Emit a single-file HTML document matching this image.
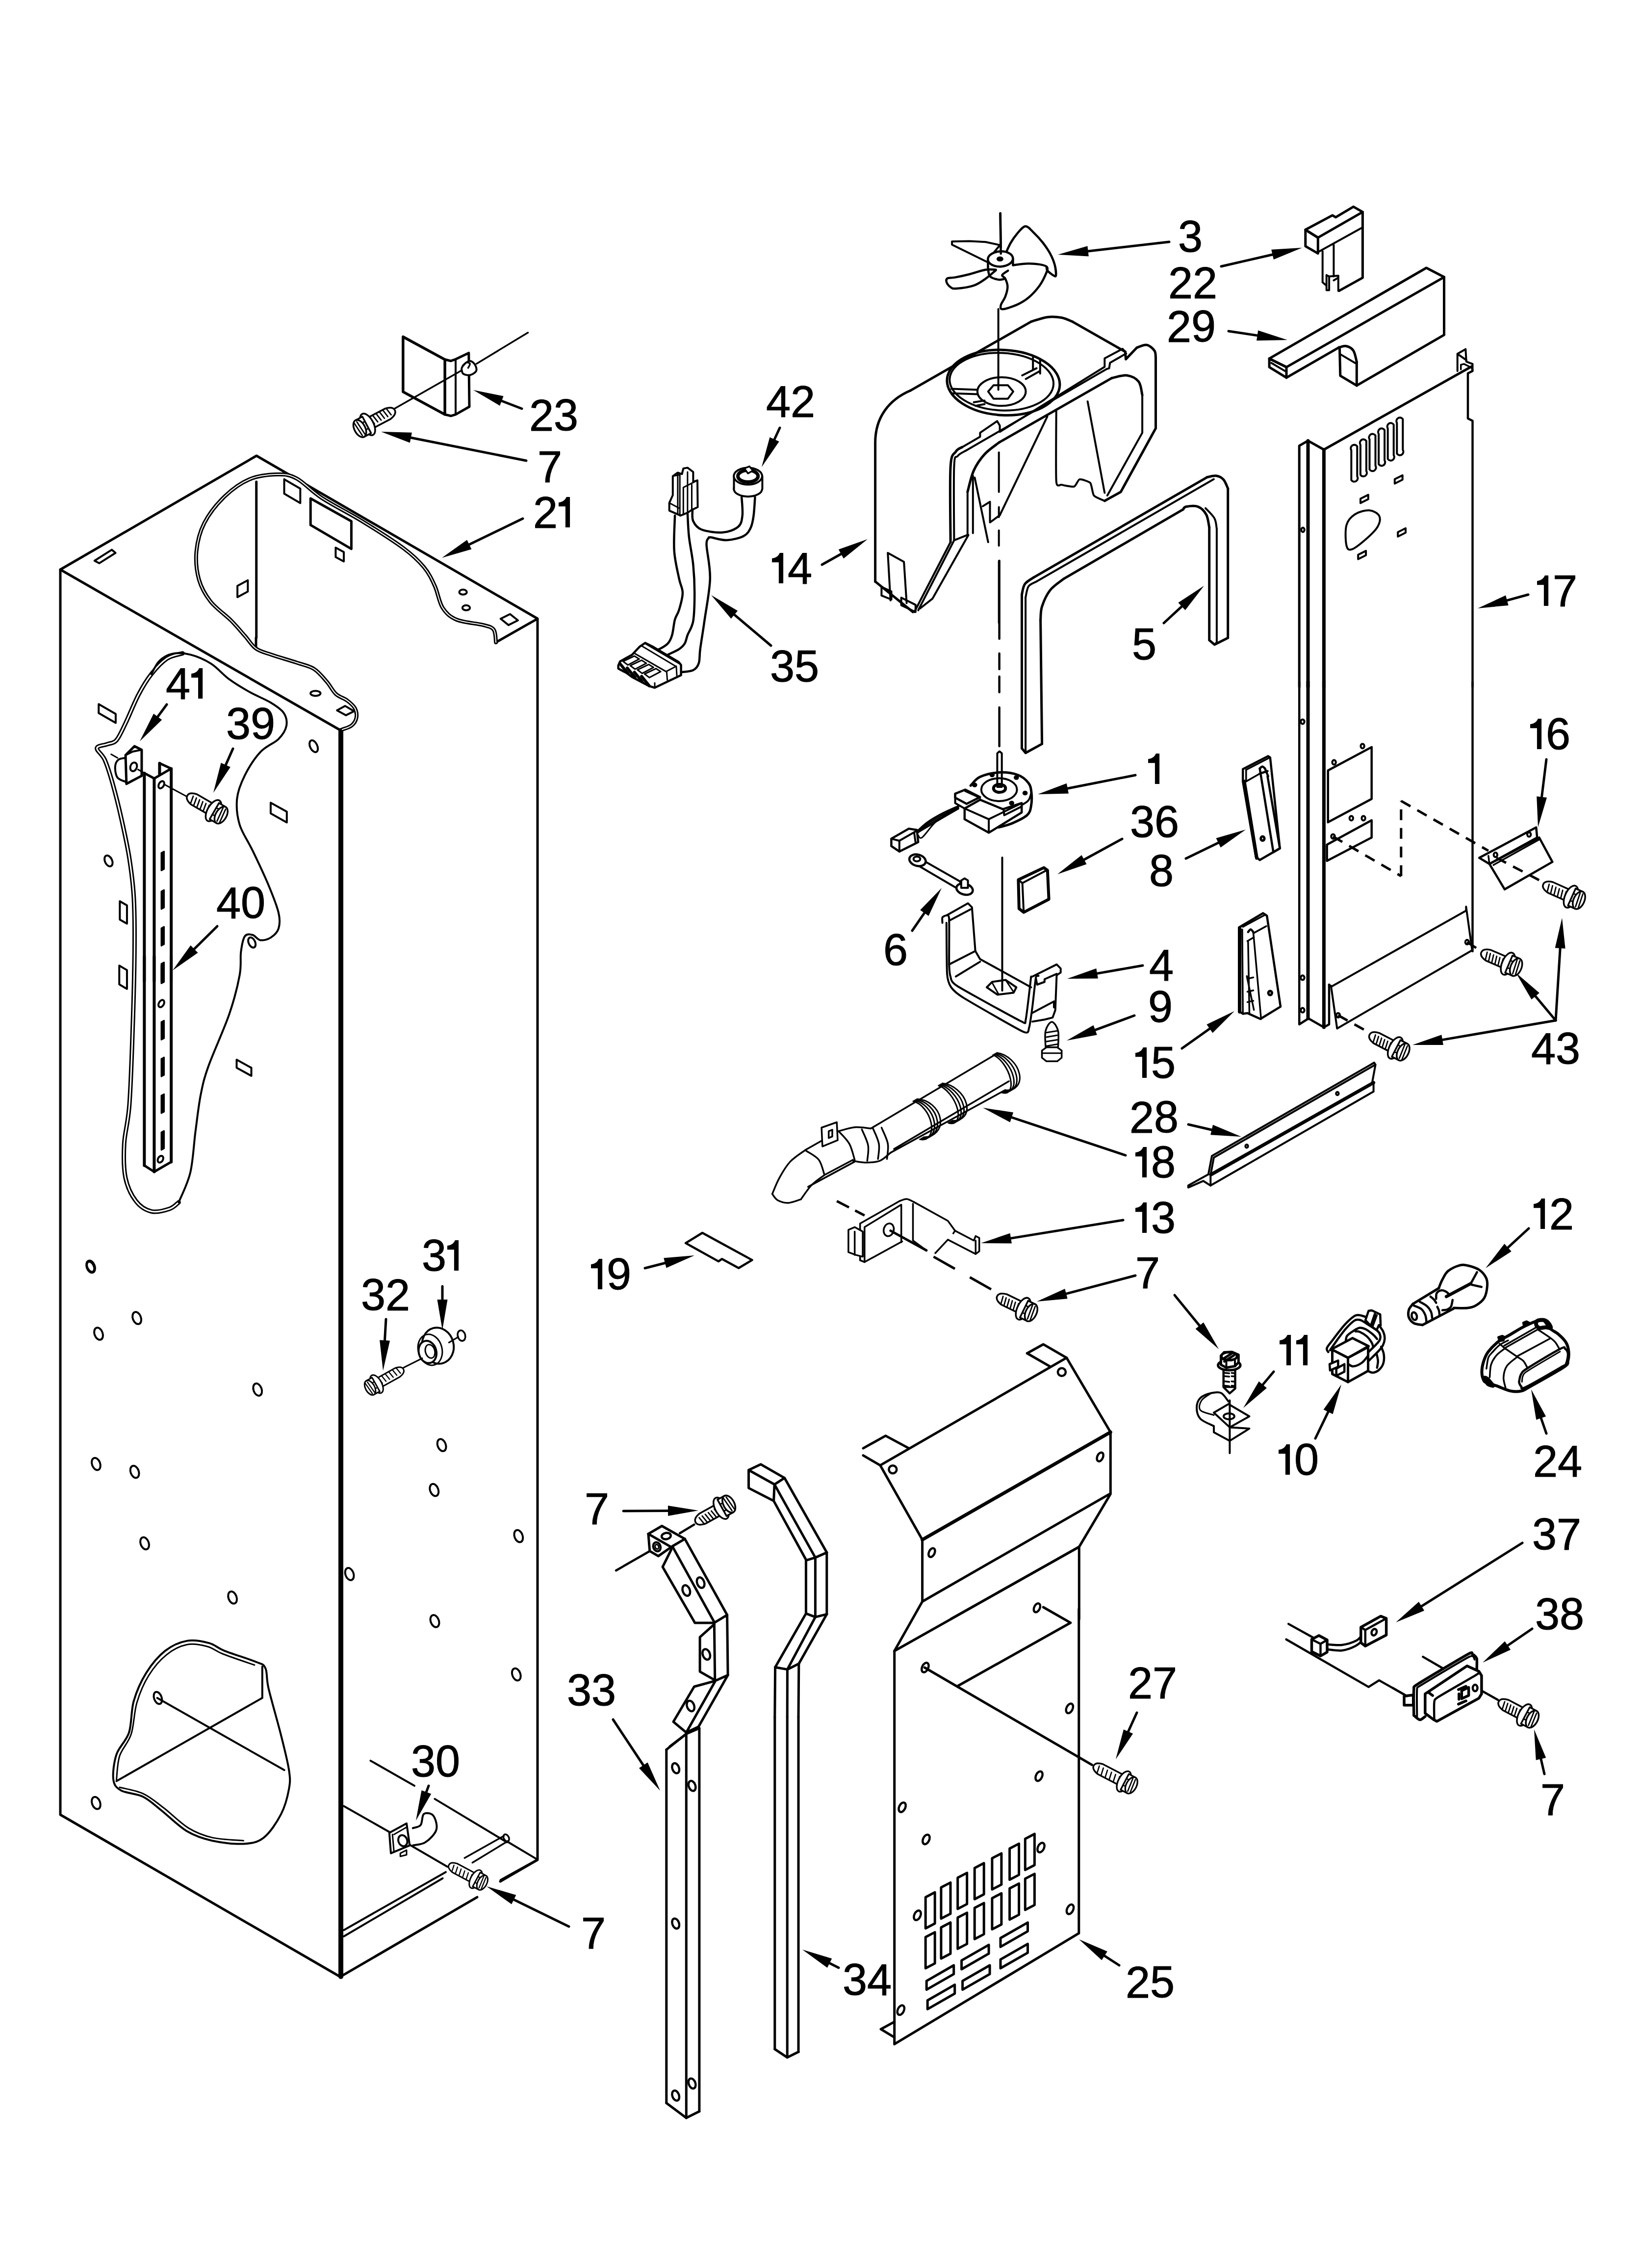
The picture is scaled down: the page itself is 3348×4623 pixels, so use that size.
<!DOCTYPE html>
<html><head><meta charset="utf-8"><style>
html,body{margin:0;padding:0;background:#fff;}
svg{display:block;}
text{font-family:"Liberation Sans",sans-serif;font-size:90px;fill:#000;}
</style></head><body>
<svg width="3348" height="4623" viewBox="0 0 3348 4623" stroke="#000" stroke-linejoin="round" stroke-linecap="round">
<rect width="3348" height="4623" fill="#fff" stroke="none"/>
<text x="2402" y="513">3</text>
<text x="2382" y="608">2</text>
<text x="2432.1" y="608">2</text>
<text x="2379" y="697">2</text>
<text x="2429.1" y="696">9</text>
<text x="1079" y="878">2</text>
<text x="1129" y="877">3</text>
<text x="1096" y="983">7</text>
<text x="1087" y="1076">2</text>
<path d="M15.9 0 L23.1 0 L23.1 62 L13.9 62 L13.9 19.2 L0 19.2 L0 11.2 C6 10.6 12.6 8 15.9 0 Z" transform="translate(1139 1013)" stroke="none" fill="#000"/>
<text x="1562" y="850">4</text>
<text x="1612" y="850">2</text>
<path d="M15.9 0 L23.1 0 L23.1 62 L13.9 62 L13.9 19.2 L0 19.2 L0 11.2 C6 10.6 12.6 8 15.9 0 Z" transform="translate(1574 1127)" stroke="none" fill="#000"/>
<text x="1606" y="1190">4</text>
<text x="1570" y="1389">3</text>
<text x="1620" y="1389">5</text>
<text x="2308" y="1344">5</text>
<path d="M15.9 0 L23.1 0 L23.1 62 L13.9 62 L13.9 19.2 L0 19.2 L0 11.2 C6 10.6 12.6 8 15.9 0 Z" transform="translate(3134 1173)" stroke="none" fill="#000"/>
<text x="3166" y="1236">7</text>
<path d="M15.9 0 L23.1 0 L23.1 62 L13.9 62 L13.9 19.2 L0 19.2 L0 11.2 C6 10.6 12.6 8 15.9 0 Z" transform="translate(3120 1465)" stroke="none" fill="#000"/>
<text x="3152" y="1527">6</text>
<path d="M15.9 0 L23.1 0 L23.1 62 L13.9 62 L13.9 19.2 L0 19.2 L0 11.2 C6 10.6 12.6 8 15.9 0 Z" transform="translate(2341 1536)" stroke="none" fill="#000"/>
<text x="2304" y="1706">3</text>
<text x="2354.1" y="1706">6</text>
<text x="2343" y="1806">8</text>
<text x="338" y="1425">4</text>
<path d="M15.9 0 L23.1 0 L23.1 62 L13.9 62 L13.9 19.2 L0 19.2 L0 11.2 C6 10.6 12.6 8 15.9 0 Z" transform="translate(390.1 1362)" stroke="none" fill="#000"/>
<text x="461" y="1506">3</text>
<text x="511.1" y="1506">9</text>
<text x="441" y="1872">4</text>
<text x="491.1" y="1871">0</text>
<text x="1801" y="1967">6</text>
<text x="2343" y="1999">4</text>
<text x="2341" y="2083">9</text>
<path d="M15.9 0 L23.1 0 L23.1 62 L13.9 62 L13.9 19.2 L0 19.2 L0 11.2 C6 10.6 12.6 8 15.9 0 Z" transform="translate(2315 2135)" stroke="none" fill="#000"/>
<text x="2347" y="2197">5</text>
<text x="3122" y="2169">4</text>
<text x="3172.1" y="2168">3</text>
<text x="2303" y="2309">2</text>
<text x="2353.1" y="2308">8</text>
<path d="M15.9 0 L23.1 0 L23.1 62 L13.9 62 L13.9 19.2 L0 19.2 L0 11.2 C6 10.6 12.6 8 15.9 0 Z" transform="translate(2315 2338)" stroke="none" fill="#000"/>
<text x="2347" y="2400">8</text>
<path d="M15.9 0 L23.1 0 L23.1 62 L13.9 62 L13.9 19.2 L0 19.2 L0 11.2 C6 10.6 12.6 8 15.9 0 Z" transform="translate(2315 2451)" stroke="none" fill="#000"/>
<text x="2347" y="2513">3</text>
<path d="M15.9 0 L23.1 0 L23.1 62 L13.9 62 L13.9 19.2 L0 19.2 L0 11.2 C6 10.6 12.6 8 15.9 0 Z" transform="translate(3127 2443)" stroke="none" fill="#000"/>
<text x="3159" y="2506">2</text>
<path d="M15.9 0 L23.1 0 L23.1 62 L13.9 62 L13.9 19.2 L0 19.2 L0 11.2 C6 10.6 12.6 8 15.9 0 Z" transform="translate(1205 2566)" stroke="none" fill="#000"/>
<text x="1237" y="2628">9</text>
<text x="2315" y="2626">7</text>
<text x="860" y="2590">3</text>
<path d="M15.9 0 L23.1 0 L23.1 62 L13.9 62 L13.9 19.2 L0 19.2 L0 11.2 C6 10.6 12.6 8 15.9 0 Z" transform="translate(912 2528)" stroke="none" fill="#000"/>
<text x="736" y="2670">3</text>
<text x="786" y="2671">2</text>
<path d="M15.9 0 L23.1 0 L23.1 62 L13.9 62 L13.9 19.2 L0 19.2 L0 11.2 C6 10.6 12.6 8 15.9 0 Z" transform="translate(2609 2721)" stroke="none" fill="#000"/>
<path d="M15.9 0 L23.1 0 L23.1 62 L13.9 62 L13.9 19.2 L0 19.2 L0 11.2 C6 10.6 12.6 8 15.9 0 Z" transform="translate(2643 2721)" stroke="none" fill="#000"/>
<path d="M15.9 0 L23.1 0 L23.1 62 L13.9 62 L13.9 19.2 L0 19.2 L0 11.2 C6 10.6 12.6 8 15.9 0 Z" transform="translate(2607 2944)" stroke="none" fill="#000"/>
<text x="2639" y="3006">0</text>
<text x="3126" y="3010">2</text>
<text x="3176.1" y="3010">4</text>
<text x="1192" y="3107">7</text>
<text x="3124" y="3158">3</text>
<text x="3174.1" y="3159">7</text>
<text x="3130" y="3321">3</text>
<text x="3180.1" y="3321">8</text>
<text x="1156" y="3476">3</text>
<text x="1206" y="3476">3</text>
<text x="2300" y="3462">2</text>
<text x="2350.1" y="3462">7</text>
<text x="838" y="3621">3</text>
<text x="888" y="3621">0</text>
<text x="3141" y="3700">7</text>
<text x="1185" y="3972">7</text>
<text x="1718" y="4066">3</text>
<text x="1768" y="4067">4</text>
<text x="2295" y="4072">2</text>
<text x="2345.1" y="4071">5</text>
<path d="M2384 493L2216.6 512.2" stroke-width="5" fill="none"/>
<path d="M2157 519L2217.4 501.5L2219.8 522.4Z" stroke="none" fill="#000"/>
<path d="M2490 543L2596.5 518.5" stroke-width="5" fill="none"/>
<path d="M2655 505L2596.9 529.1L2592.2 508.7Z" stroke="none" fill="#000"/>
<path d="M2505 675L2565.7 684.1" stroke-width="5" fill="none"/>
<path d="M2625 693L2562.1 694.2L2565.2 673.4Z" stroke="none" fill="#000"/>
<path d="M1064 833L1021 816.5" stroke-width="5" fill="none"/>
<path d="M965 795L1026.6 807.4L1019.1 827Z" stroke="none" fill="#000"/>
<path d="M1073 939L835.8 891.7" stroke-width="5" fill="none"/>
<path d="M777 880L839.9 881.8L835.8 902.4Z" stroke="none" fill="#000"/>
<path d="M1066 1057L955 1110.8" stroke-width="5" fill="none"/>
<path d="M901 1137L952.2 1100.5L961.4 1119.4Z" stroke="none" fill="#000"/>
<path d="M1590 872L1578.2 897.5" stroke-width="5" fill="none"/>
<path d="M1553 952L1569.5 891.3L1588.6 900.1Z" stroke="none" fill="#000"/>
<path d="M1676 1151L1716.6 1128.3" stroke-width="5" fill="none"/>
<path d="M1769 1099L1720 1138.4L1709.8 1120.1Z" stroke="none" fill="#000"/>
<path d="M1572 1316L1495.8 1251.7" stroke-width="5" fill="none"/>
<path d="M1450 1213L1504.1 1245L1490.6 1261Z" stroke="none" fill="#000"/>
<path d="M2373 1270L2411 1234.8" stroke-width="5" fill="none"/>
<path d="M2455 1194L2416.7 1243.8L2402.4 1228.4Z" stroke="none" fill="#000"/>
<path d="M2315 1580L2174.9 1607.5" stroke-width="5" fill="none"/>
<path d="M2116 1619L2174.8 1596.8L2178.9 1617.4Z" stroke="none" fill="#000"/>
<path d="M2288 1710L2208.7 1753.3" stroke-width="5" fill="none"/>
<path d="M2156 1782L2205.4 1743.1L2215.5 1761.5Z" stroke="none" fill="#000"/>
<path d="M2418 1750L2486 1717.1" stroke-width="5" fill="none"/>
<path d="M2540 1691L2488.8 1727.4L2479.6 1708.5Z" stroke="none" fill="#000"/>
<path d="M3116 1212L3070.9 1224.3" stroke-width="5" fill="none"/>
<path d="M3013 1240L3070.1 1213.6L3075.6 1233.9Z" stroke="none" fill="#000"/>
<path d="M3153 1548L3143.3 1626.5" stroke-width="5" fill="none"/>
<path d="M3136 1686L3133.2 1623.2L3154 1625.7Z" stroke="none" fill="#000"/>
<path d="M340 1436L320.5 1462.6" stroke-width="5" fill="none"/>
<path d="M285 1511L313.2 1454.8L330.1 1467.2Z" stroke="none" fill="#000"/>
<path d="M475 1526L459.4 1561.2" stroke-width="5" fill="none"/>
<path d="M435 1616L450.6 1555.1L469.8 1563.6Z" stroke="none" fill="#000"/>
<path d="M443 1888L394.7 1935.8" stroke-width="5" fill="none"/>
<path d="M352 1978L388.7 1926.9L403.5 1941.9Z" stroke="none" fill="#000"/>
<path d="M1860 1897L1885.9 1859.4" stroke-width="5" fill="none"/>
<path d="M1920 1810L1893.4 1867L1876.2 1855.1Z" stroke="none" fill="#000"/>
<path d="M2330 1968L2235.1 1984.6" stroke-width="5" fill="none"/>
<path d="M2176 1995L2235.3 1974L2238.9 1994.6Z" stroke="none" fill="#000"/>
<path d="M2313 2070L2231.3 2100.2" stroke-width="5" fill="none"/>
<path d="M2175 2121L2229.5 2089.7L2236.8 2109.4Z" stroke="none" fill="#000"/>
<path d="M2410 2137L2468.1 2095.7" stroke-width="5" fill="none"/>
<path d="M2517 2061L2472.5 2105.5L2460.4 2088.3Z" stroke="none" fill="#000"/>
<path d="M2423 2292L2472.5 2303.5" stroke-width="5" fill="none"/>
<path d="M2531 2317L2468.2 2313.2L2473 2292.8Z" stroke="none" fill="#000"/>
<path d="M2295 2355L2060.9 2277" stroke-width="5" fill="none"/>
<path d="M2004 2258L2066.1 2267.6L2059.5 2287.6Z" stroke="none" fill="#000"/>
<path d="M2290 2487L2059.2 2524.4" stroke-width="5" fill="none"/>
<path d="M2000 2534L2059.5 2513.7L2062.9 2534.4Z" stroke="none" fill="#000"/>
<path d="M2315 2600L2172 2637.7" stroke-width="5" fill="none"/>
<path d="M2114 2653L2171.3 2627L2176.6 2647.3Z" stroke="none" fill="#000"/>
<path d="M2395 2640L2447 2703.6" stroke-width="5" fill="none"/>
<path d="M2485 2750L2437.6 2708.7L2453.9 2695.4Z" stroke="none" fill="#000"/>
<path d="M2597 2796L2573.5 2824" stroke-width="5" fill="none"/>
<path d="M2535 2870L2566.8 2815.7L2582.9 2829.2Z" stroke="none" fill="#000"/>
<path d="M2682 2932L2709 2876.1" stroke-width="5" fill="none"/>
<path d="M2735 2822L2717.5 2882.4L2698.6 2873.3Z" stroke="none" fill="#000"/>
<path d="M3172 2080L3129.5 2029.1" stroke-width="5" fill="none"/>
<path d="M3091 1983L3138.8 2023.9L3122.7 2037.3Z" stroke="none" fill="#000"/>
<path d="M3172 2080L3181.3 1930.9" stroke-width="5" fill="none"/>
<path d="M3185 1871L3191.6 1933.5L3170.7 1932.2Z" stroke="none" fill="#000"/>
<path d="M3172 2080L2939.1 2119.9" stroke-width="5" fill="none"/>
<path d="M2880 2130L2939.3 2109.2L2942.9 2129.9Z" stroke="none" fill="#000"/>
<path d="M3117 2504L3073.1 2544.4" stroke-width="5" fill="none"/>
<path d="M3029 2585L3067.5 2535.3L3081.7 2550.7Z" stroke="none" fill="#000"/>
<path d="M3153 2922L3141.5 2888.7" stroke-width="5" fill="none"/>
<path d="M3122 2832L3152.1 2887.2L3132.3 2894Z" stroke="none" fill="#000"/>
<path d="M3104 3145L2896.8 3275.1" stroke-width="5" fill="none"/>
<path d="M2846 3307L2892.9 3265.1L2904.1 3282.9Z" stroke="none" fill="#000"/>
<path d="M3124 3320L3072.5 3355.2" stroke-width="5" fill="none"/>
<path d="M3023 3389L3068.3 3345.4L3080.1 3362.7Z" stroke="none" fill="#000"/>
<path d="M2318 3491L2299.7 3531.3" stroke-width="5" fill="none"/>
<path d="M2275 3586L2291 3525.2L2310.1 3533.8Z" stroke="none" fill="#000"/>
<path d="M2282 4006L2250.4 3985.6" stroke-width="5" fill="none"/>
<path d="M2200 3953L2257.8 3977.8L2246.4 3995.5Z" stroke="none" fill="#000"/>
<path d="M1710 4011L1689.7 4000.8" stroke-width="5" fill="none"/>
<path d="M1636 3974L1696.2 3992.3L1686.8 4011.1Z" stroke="none" fill="#000"/>
<path d="M1250 3505L1312.9 3600" stroke-width="5" fill="none"/>
<path d="M1346 3650L1303 3604.1L1320.5 3592.5Z" stroke="none" fill="#000"/>
<path d="M874 3640L868.6 3654.7" stroke-width="5" fill="none"/>
<path d="M848 3711L859.5 3649.2L879.2 3656.4Z" stroke="none" fill="#000"/>
<path d="M1160 3927L1045.9 3871.3" stroke-width="5" fill="none"/>
<path d="M992 3845L1052.3 3862.8L1043.1 3881.6Z" stroke="none" fill="#000"/>
<path d="M1271 3080L1364 3079.4" stroke-width="5" fill="none"/>
<path d="M1424 3079L1362.1 3089.9L1361.9 3068.9Z" stroke="none" fill="#000"/>
<path d="M1315 2585L1357.9 2574" stroke-width="5" fill="none"/>
<path d="M1416 2559L1358.6 2584.6L1353.3 2564.3Z" stroke="none" fill="#000"/>
<path d="M787 2689L784.4 2734.1" stroke-width="5" fill="none"/>
<path d="M781 2794L774.1 2731.5L795 2732.7Z" stroke="none" fill="#000"/>
<path d="M902 2622L902 2651" stroke-width="5" fill="none"/>
<path d="M902 2711L891.5 2649L912.5 2649Z" stroke="none" fill="#000"/>
<path d="M3149 3616L3141.5 3583.5" stroke-width="5" fill="none"/>
<path d="M3128 3525L3152.2 3583.1L3131.7 3587.8Z" stroke="none" fill="#000"/>
<path d="M693 4029 L123 3699 L123 1161 L523 929 L1096 1261 L1096 3791 L1020 3835" stroke-width="5" fill="none"/>
<path d="M123 1161 L695 1489" stroke-width="5" fill="none"/>
<path d="M695 1489 L695 4029" stroke-width="10" fill="none"/>
<path d="M1011.2 1309.3L1095.7 1261.3" stroke-width="5" fill="none"/>
<path d="M192.7 1143 L227.9 1120.6 L235.6 1127 L202.3 1148.1 Z" stroke-width="4" fill="none"/>
<ellipse cx="944.1" cy="1206.9" rx="7.7" ry="5.1" transform="rotate(0 944.1 1206.9)" stroke-width="4" fill="none"/>
<ellipse cx="950.5" cy="1238.9" rx="7.7" ry="5.1" transform="rotate(0 950.5 1238.9)" stroke-width="4" fill="none"/>
<path d="M1020.8 1261.3 L1040 1251.7 L1056 1264.5 L1036.8 1274.1 Z" stroke-width="4" fill="none"/>
<path d="M522.7 982L522.7 1299.9" stroke-width="5" fill="none"/>
<path d="M522 1300L522 1322" stroke-width="5" fill="none"/>
<path d="M579.5 976.9 L579.5 1006.3 L612.3 1025.5 L612.3 996 Z" stroke-width="4" fill="none"/>
<path d="M633.2 1016 L633.2 1070.2 L716.4 1118.8 L716.4 1062.5 Z" stroke-width="5" fill="none"/>
<path d="M684.4 1116.3 L684.4 1135.4 L701 1144.4 L701 1125.2 Z" stroke-width="4" fill="none"/>
<path d="M484.1 1194.3 L484.1 1217.3 L505.3 1205.8 L505.3 1182.8 Z" stroke-width="4" fill="none"/>
<path d="M1011.2 1309.3 C1010.5 1305 1011 1289.5 1006.8 1283.7 C1002.5 1277.8 998.2 1277.5 985.7 1274.1 C973.1 1270.7 945.2 1269.1 931.3 1263.2 C917.5 1257.4 910 1250.4 902.5 1238.9 C895.1 1227.4 892.9 1208 886.5 1194.2 C880.2 1180.3 874.8 1168.6 864.2 1155.8 C853.5 1143 843.4 1132.9 822.6 1117.4 C801.8 1102 767.2 1080.1 739.5 1063.1 C711.8 1046 678.7 1029.7 656.3 1015.1 C634 1000.5 620.1 983.5 605.2 975.5 C590.3 967.5 582.8 966.9 566.8 967.1 C550.8 967.4 527.4 969.3 509.3 976.7 C491.1 984.2 473.6 997 458.1 1011.9 C442.6 1026.8 426.1 1047.6 416.5 1066.3 C406.9 1084.9 402.4 1104.6 400.5 1123.8 C398.7 1143 400.9 1164.3 405.7 1181.4 C410.5 1198.4 418.5 1212.3 429.3 1226.1 C440.2 1240 459.2 1252.8 470.9 1264.5 C482.6 1276.2 491.1 1286.9 499.7 1296.5 C508.2 1306.1 513 1315.7 522 1322 C531.1 1328.4 540.2 1330 554 1334.8 C567.9 1339.6 590.8 1346 605.2 1350.8 C619.6 1355.6 630.2 1357.2 640.4 1363.6 C650.5 1370 658.5 1380.7 665.9 1389.2 C673.4 1397.7 678.2 1408.4 685.1 1414.8 C692 1421.2 701.1 1422.8 707.5 1427.6 C713.9 1432.4 720.3 1437.7 723.5 1443.5 C726.7 1449.4 727.7 1456.9 726.7 1462.7 C725.6 1468.6 721.9 1474.7 717.1 1478.7 C712.3 1482.8 701.1 1485.6 697.9 1487" stroke-width="8" fill="none"/>
<path stroke="#fff" d="M1011.2 1309.3 C1010.5 1305 1011 1289.5 1006.8 1283.7 C1002.5 1277.8 998.2 1277.5 985.7 1274.1 C973.1 1270.7 945.2 1269.1 931.3 1263.2 C917.5 1257.4 910 1250.4 902.5 1238.9 C895.1 1227.4 892.9 1208 886.5 1194.2 C880.2 1180.3 874.8 1168.6 864.2 1155.8 C853.5 1143 843.4 1132.9 822.6 1117.4 C801.8 1102 767.2 1080.1 739.5 1063.1 C711.8 1046 678.7 1029.7 656.3 1015.1 C634 1000.5 620.1 983.5 605.2 975.5 C590.3 967.5 582.8 966.9 566.8 967.1 C550.8 967.4 527.4 969.3 509.3 976.7 C491.1 984.2 473.6 997 458.1 1011.9 C442.6 1026.8 426.1 1047.6 416.5 1066.3 C406.9 1084.9 402.4 1104.6 400.5 1123.8 C398.7 1143 400.9 1164.3 405.7 1181.4 C410.5 1198.4 418.5 1212.3 429.3 1226.1 C440.2 1240 459.2 1252.8 470.9 1264.5 C482.6 1276.2 491.1 1286.9 499.7 1296.5 C508.2 1306.1 513 1315.7 522 1322 C531.1 1328.4 540.2 1330 554 1334.8 C567.9 1339.6 590.8 1346 605.2 1350.8 C619.6 1355.6 630.2 1357.2 640.4 1363.6 C650.5 1370 658.5 1380.7 665.9 1389.2 C673.4 1397.7 678.2 1408.4 685.1 1414.8 C692 1421.2 701.1 1422.8 707.5 1427.6 C713.9 1432.4 720.3 1437.7 723.5 1443.5 C726.7 1449.4 727.7 1456.9 726.7 1462.7 C725.6 1468.6 721.9 1474.7 717.1 1478.7 C712.3 1482.8 701.1 1485.6 697.9 1487" stroke-width="2" fill="none"/>
<path d="M372.2 1331.7 C366.9 1333.5 351.1 1335.3 340.5 1342.3 C329.9 1349.4 318.4 1361.7 308.7 1374.1 C299 1386.4 291.1 1399.6 282.3 1416.4 C273.5 1433.2 263.3 1459.2 255.8 1474.6 C248.3 1490 243.5 1501.9 237.3 1509 C231.1 1516 225.4 1514.3 218.8 1516.9 C212.2 1519.6 198.5 1519.6 197.6 1524.9 C196.7 1530.2 208.2 1536.8 213.5 1548.7 C218.8 1560.6 223.6 1576 229.4 1596.3 C235.1 1616.6 242.2 1644.8 247.9 1670.4 C253.6 1695.9 259.6 1723.3 263.8 1749.7 C267.9 1776.2 271 1798.2 272.8 1829.1 C274.5 1860 274.7 1890.8 274.3 1934.9 C274 1979 272.4 2040.7 270.6 2093.7 C268.9 2146.6 266.7 2212.7 263.8 2252.4 C260.8 2292.1 254.5 2307.1 253.2 2331.7 C251.9 2356.4 251.9 2381.1 255.8 2400.5 C259.8 2419.9 268.2 2436.7 277 2448.1 C285.8 2459.6 297.3 2466.7 308.7 2469.3 C320.2 2472 336.5 2467.1 345.8 2464 C355 2460.9 361.2 2453 364.3 2450.8" stroke-width="9" fill="none"/>
<path stroke="#fff" d="M372.2 1331.7 C366.9 1333.5 351.1 1335.3 340.5 1342.3 C329.9 1349.4 318.4 1361.7 308.7 1374.1 C299 1386.4 291.1 1399.6 282.3 1416.4 C273.5 1433.2 263.3 1459.2 255.8 1474.6 C248.3 1490 243.5 1501.9 237.3 1509 C231.1 1516 225.4 1514.3 218.8 1516.9 C212.2 1519.6 198.5 1519.6 197.6 1524.9 C196.7 1530.2 208.2 1536.8 213.5 1548.7 C218.8 1560.6 223.6 1576 229.4 1596.3 C235.1 1616.6 242.2 1644.8 247.9 1670.4 C253.6 1695.9 259.6 1723.3 263.8 1749.7 C267.9 1776.2 271 1798.2 272.8 1829.1 C274.5 1860 274.7 1890.8 274.3 1934.9 C274 1979 272.4 2040.7 270.6 2093.7 C268.9 2146.6 266.7 2212.7 263.8 2252.4 C260.8 2292.1 254.5 2307.1 253.2 2331.7 C251.9 2356.4 251.9 2381.1 255.8 2400.5 C259.8 2419.9 268.2 2436.7 277 2448.1 C285.8 2459.6 297.3 2466.7 308.7 2469.3 C320.2 2472 336.5 2467.1 345.8 2464 C355 2460.9 361.2 2453 364.3 2450.8" stroke-width="3" fill="none"/>
<path d="M308.7 1374.1 C311.4 1369.7 317.5 1354.5 324.6 1347.6 C331.7 1340.7 340.5 1335 351.1 1332.8 C361.6 1330.6 374.9 1331 388.1 1334.4 C401.3 1337.7 417.2 1344.5 430.4 1352.9 C443.7 1361.3 454.2 1375 467.5 1384.7 C480.7 1394.4 495.7 1403.2 509.8 1411.1 C523.9 1419 540.7 1425.2 552.1 1432.3 C563.6 1439.3 573.3 1445.5 578.6 1453.4 C583.9 1461.4 585.6 1471.1 583.9 1479.9 C582.1 1488.7 576.8 1497.5 568 1506.3 C559.2 1515.2 542.4 1520.5 531 1532.8 C519.5 1545.1 507.1 1564.6 499.2 1580.4 C491.3 1596.3 485.1 1611.3 483.3 1628 C481.6 1644.8 483.3 1663.3 488.6 1681 C493.9 1698.6 505.4 1713.6 515.1 1733.9 C524.8 1754.1 538 1781.5 546.8 1802.6 C555.6 1823.8 564.5 1845.9 568 1860.8 C571.5 1875.8 570.6 1884.2 568 1892.6 C565.3 1901 558.3 1907.1 552.1 1911.1 C545.9 1915.1 537.1 1917.3 531 1916.4 C524.8 1915.5 520.4 1907.1 515.1 1905.8 C509.8 1904.5 503.2 1902.7 499.2 1908.5 C495.2 1914.2 493 1927 491.3 1940.2 C489.5 1953.4 492.6 1966.7 488.6 1987.8 C484.7 2009 478 2036.3 467.5 2067.2 C456.9 2098.1 434.8 2145.7 425.1 2173 C415.4 2200.4 413.7 2209.2 409.3 2231.2 C404.9 2253.3 402.2 2278.8 398.7 2305.3 C395.1 2331.7 393.8 2365.7 388.1 2389.9 C382.4 2414.2 368.3 2440.7 364.3 2450.8" stroke-width="4" fill="none"/>
<path d="M294.3 1575.9L294.3 2000.1M314.4 1586.8L314.4 2000.1M349.1 1566.7L349.1 2000.1M325.4 1555.8L325.4 1577.7" stroke-width="6" fill="none"/>
<path d="M294.3 1575.9 L314.4 1586.8 L349.1 1566.7 L325.4 1555.8" stroke-width="5" fill="none"/>
<path d="M294.3 1950L294.3 2375.7M314.4 1950L314.4 2388.5M349.1 1950L349.1 2368.4" stroke-width="6" fill="none"/>
<path d="M294.3 2375.7 L314.4 2388.5 L349.1 2368.4" stroke-width="5" fill="none"/>
<path d="M329 1738.5 L334.5 1735.6 L334.5 1771.4 L329 1774.3 Z" stroke-width="3" fill="#000"/>
<path d="M329 1817 L334.5 1814.1 L334.5 1849.9 L329 1852.9 Z" stroke-width="3" fill="#000"/>
<path d="M329 1892 L334.5 1889 L334.5 1924.8 L329 1927.8 Z" stroke-width="3" fill="#000"/>
<path d="M329 1968.7 L334.5 1965.8 L334.5 2001.6 L329 2004.5 Z" stroke-width="3" fill="#000"/>
<path d="M329 1964.6 L334.5 1961.7 L334.5 1997.5 L329 2000.4 Z" stroke-width="3" fill="#000"/>
<path d="M329 2083.4 L334.5 2080.4 L334.5 2116.3 L329 2119.2 Z" stroke-width="3" fill="#000"/>
<path d="M329 2158.3 L334.5 2155.4 L334.5 2191.2 L329 2194.1 Z" stroke-width="3" fill="#000"/>
<path d="M329 2233.2 L334.5 2230.3 L334.5 2266.1 L329 2269 Z" stroke-width="3" fill="#000"/>
<path d="M329 2308.1 L334.5 2305.2 L334.5 2341 L329 2343.9 Z" stroke-width="3" fill="#000"/>
<ellipse cx="329" cy="1599.6" rx="5.1" ry="8" transform="rotate(30 329 1599.6)" stroke-width="4" fill="none"/>
<ellipse cx="329" cy="2045.7" rx="5.1" ry="8" transform="rotate(30 329 2045.7)" stroke-width="4" fill="none"/>
<ellipse cx="327.2" cy="2362.9" rx="5.1" ry="7.3" transform="rotate(30 327.2 2362.9)" stroke-width="4" fill="none"/>
<path d="M256 1539.3 L274.2 1521.1 L288.9 1528.4 L288.9 1581.4 L257.8 1597.8 L256 1539.3 Z" stroke-width="5" fill="none"/>
<path d="M256 1539.3 L270.6 1532 L288.9 1528.4" stroke-width="4" fill="none"/>
<path d="M256 1544.8 C253.5 1545.4 244.9 1545.4 241.4 1548.5 C237.8 1551.5 235.1 1557 234.8 1563.1 C234.5 1569.2 235.7 1579.8 239.5 1585 C243.4 1590.2 254.7 1592.6 257.8 1594.1" stroke-width="4" fill="none"/>
<ellipse cx="272.4" cy="1563.1" rx="6.6" ry="9.1" transform="rotate(20 272.4 1563.1)" stroke-width="4" fill="none"/>
<path d="M226.7 1537.5L239.5 1544.8M281.5 1568.6L314.4 1586.8" stroke-width="3" fill="none"/>
<path d="M336.4 1599.6L383.9 1625.2" stroke-width="3" fill="none"/>
<g transform="translate(438.7 1654.4) rotate(-149.9) scale(1.0)"><path d="M8 -12 L49.5 -12 Q65.5 -9 65.5 0 Q65.5 9 49.5 12 L8 12" fill="#fff" stroke-width="3.5"/><path d="M14 -12 L17 5" stroke-width="2.8000000000000003" fill="none"/><path d="M21.5 -12 L24.5 5" stroke-width="2.8000000000000003" fill="none"/><path d="M29 -12 L32 5" stroke-width="2.8000000000000003" fill="none"/><path d="M36.5 -12 L39.5 5" stroke-width="2.8000000000000003" fill="none"/><path d="M44 -12 L47 5" stroke-width="2.8000000000000003" fill="none"/><path d="M51.5 -12 L54.5 5" stroke-width="2.8000000000000003" fill="none"/><ellipse cx="4" cy="0" rx="12" ry="24" fill="#fff" stroke-width="3.5"/><path d="M-14 -19 L2 -19 L2 19 L-14 19 Z" fill="#fff" stroke-width="3.5"/><path d="M-14 -7 L2 -8 M-14 8 L2 8" stroke-width="2.8000000000000003" fill="none"/><ellipse cx="-14" cy="0" rx="11" ry="19" fill="#fff" stroke-width="3.5"/><path d="M-19 -15 L-16 15 M-13 -15 L-10 15" stroke-width="2.8000000000000003" fill="none"/></g>
<path d="M201.2 1435.2 L235.9 1455.3 L235.9 1473.6 L201.2 1453.5 Z" stroke-width="4" fill="none"/>
<path d="M244.3 1837.1 L258.9 1845.5 L258.9 1882.8 L244.3 1874.4 Z" stroke-width="4" fill="none"/>
<path d="M243.2 1968.3 L258.9 1977.4 L258.9 2015.8 L243.2 2006.6 Z" stroke-width="4" fill="none"/>
<ellipse cx="221.3" cy="1754.9" rx="7.3" ry="11.7" transform="rotate(-25 221.3 1754.9)" stroke-width="4" fill="none"/>
<path d="M551.9 1636.2 L584.8 1654.4 L584.8 1676.4 L551.9 1658.1 Z" stroke-width="4" fill="none"/>
<path d="M482.5 2160.1 L512.5 2176.6 L512.5 2193 L482.5 2176.6 Z" stroke-width="4" fill="none"/>
<ellipse cx="639.6" cy="1521.1" rx="7.3" ry="12.8" transform="rotate(-25 639.6 1521.1)" stroke-width="4" fill="none"/>
<ellipse cx="513.6" cy="1921.2" rx="6.6" ry="11" transform="rotate(-25 513.6 1921.2)" stroke-width="4" fill="none"/>
<ellipse cx="643.3" cy="1413.3" rx="10.2" ry="5.1" transform="rotate(0 643.3 1413.3)" stroke-width="4" fill="none"/>
<path d="M687.1 1448 L703.6 1438.9 L721.9 1449.8 L705.4 1457.9 Z" stroke-width="4" fill="none"/>
<ellipse cx="184.7" cy="2582.1" rx="6.6" ry="11" transform="rotate(-25 184.7 2582.1)" stroke-width="4" fill="none"/>
<path d="M821.8 686.5 L821.8 798.6 L907.1 844.9 L907.1 732.8 Z" stroke-width="5.5" fill="none"/>
<path d="M907.1 732.8 L919.2 735.7 L929 732.3 L955.8 719.4 L957 829 L929 844.9 L919.2 847.8 L907.1 844.9" stroke-width="5" fill="none"/>
<path d="M907.1 736.5L907.1 843.7M929 732.8L929 843.7" stroke-width="4" fill="none"/>
<path d="M1076.4 678L971.6 741.4M946 752.3L804.8 832.7" stroke-width="3.5" fill="none"/>
<path d="M943.6 746.2 C945.8 743.6 951.3 737.9 954.6 736.5 C957.8 735.1 960.5 735.9 963.1 737.7 C965.7 739.5 969.2 744.2 970.4 747.4 C971.6 750.7 972.4 754.3 970.4 757.2 C968.4 760 962.5 763.7 958.2 764.5 C954 765.3 947.7 764.1 944.8 762.1 C942 760 941.4 755 941.2 752.3 C941 749.7 941.4 748.9 943.6 746.2 Z" stroke-width="4" fill="#fff"/>
<path d="M943.6 745 C944.8 744 948.5 739.5 950.9 738.9 C953.3 738.3 957.6 739.5 958.2 741.4 C958.8 743.2 955.2 748.5 954.6 749.9" stroke-width="3.5" fill="none"/>
<g transform="translate(746 867) rotate(-27.7) scale(1.0)"><path d="M8 -12 L50.6 -12 Q66.6 -9 66.6 0 Q66.6 9 50.6 12 L8 12" fill="#fff" stroke-width="3.5"/><path d="M14 -12 L17 5" stroke-width="2.8000000000000003" fill="none"/><path d="M21.7 -12 L24.7 5" stroke-width="2.8000000000000003" fill="none"/><path d="M29.5 -12 L32.5 5" stroke-width="2.8000000000000003" fill="none"/><path d="M37.2 -12 L40.2 5" stroke-width="2.8000000000000003" fill="none"/><path d="M44.9 -12 L47.9 5" stroke-width="2.8000000000000003" fill="none"/><path d="M52.6 -12 L55.6 5" stroke-width="2.8000000000000003" fill="none"/><ellipse cx="4" cy="0" rx="12" ry="24" fill="#fff" stroke-width="3.5"/><path d="M-14 -19 L2 -19 L2 19 L-14 19 Z" fill="#fff" stroke-width="3.5"/><path d="M-14 -7 L2 -8 M-14 8 L2 8" stroke-width="2.8000000000000003" fill="none"/><ellipse cx="-14" cy="0" rx="11" ry="19" fill="#fff" stroke-width="3.5"/><path d="M-19 -15 L-16 15 M-13 -15 L-10 15" stroke-width="2.8000000000000003" fill="none"/></g>
<path d="M1376.1 1050.9 C1375.9 1062.8 1373.3 1101 1374.7 1122.5 C1376.1 1144 1381.9 1165.5 1384.7 1179.8 C1387.6 1194.1 1391.9 1197.9 1391.9 1208.5 C1391.9 1219 1387.4 1233.8 1384.7 1242.8 C1382.1 1251.9 1378.5 1254.3 1376.1 1262.9 C1373.7 1271.5 1372.8 1286.3 1370.4 1294.4 C1368 1302.5 1366.1 1306.8 1361.8 1311.6 C1357.5 1316.4 1349.9 1320.4 1344.6 1323.1 C1339.4 1325.7 1332.7 1326.6 1330.3 1327.4" stroke-width="4.5" fill="none"/>
<path d="M1401.9 1046.6 C1402.4 1054.4 1402.9 1076.4 1404.8 1093.8 C1406.7 1111.3 1411.5 1132 1413.4 1151.1 C1415.3 1170.2 1416.2 1189.4 1416.2 1208.5 C1416.2 1227.6 1415.8 1251.4 1413.4 1265.8 C1411 1280.1 1404.8 1286.8 1401.9 1294.4 C1399.1 1302.1 1399.1 1306.8 1396.2 1311.6 C1393.3 1316.4 1390.5 1319.2 1384.7 1323.1 C1379 1326.9 1365.6 1332.6 1361.8 1334.5" stroke-width="4.5" fill="none"/>
<path d="M1411.9 1039.4 C1412.2 1043.2 1410.3 1055.6 1413.4 1062.3 C1416.5 1069 1420.5 1075.7 1430.6 1079.5 C1440.6 1083.3 1461.1 1086.2 1473.6 1085.2 C1486 1084.3 1498.4 1079.5 1505.1 1073.8 C1511.8 1068.1 1512.5 1060.9 1513.7 1050.9 C1514.9 1040.8 1512.5 1019.8 1512.2 1013.6" stroke-width="4.5" fill="none"/>
<path d="M1444.9 1096.7 C1445.6 1096.5 1443 1094.6 1449.2 1095.3 C1455.4 1096 1470.9 1101.5 1482.1 1101 C1493.4 1100.5 1508.4 1096.7 1516.5 1092.4 C1524.7 1088.1 1527.5 1082.1 1530.9 1075.2 C1534.2 1068.3 1535.2 1061.1 1536.6 1050.9 C1538 1040.6 1539 1019.8 1539.5 1013.6" stroke-width="4.5" fill="none"/>
<path d="M1444.9 1096.7 C1444.2 1099.1 1440.1 1097.2 1440.6 1111 C1441.1 1124.9 1448.5 1154 1447.8 1179.8 C1447 1205.6 1439.6 1241.9 1436.3 1265.8 C1433 1289.6 1429.6 1308.7 1427.7 1323.1 C1425.8 1337.4 1427.2 1344.6 1424.8 1351.7 C1422.5 1358.9 1419.6 1362.9 1413.4 1366 C1407.2 1369.1 1391.9 1369.6 1387.6 1370.3" stroke-width="4.5" fill="none"/>
<path d="M1371.8 970.6 L1381.9 963.5 L1390.5 966.3 L1393.3 954.9 L1401.9 953.4 L1413.4 962 L1413.4 982.1 L1422 979.2 L1422.6 1033.7 L1410.5 1039.4 L1401.9 1045.1 L1387.6 1050.9 L1364.7 1040.8 L1364.7 1025.1 L1371.8 1009.3 Z" stroke-width="4" fill="#fff"/>
<path d="M1381.9 964.9L1381.9 1048M1386.2 967.8L1386.2 1050.9M1401.9 962L1401.9 1045.1M1393.3 993.6L1393.3 1048M1393.3 993.6L1422 979.2M1364.7 1025.1L1386.2 1036.5M1371.8 970.6L1386.2 967.8M1410.5 987.8L1410.5 1039.4" stroke-width="3" fill="none"/>
<ellipse cx="1525.1" cy="996.4" rx="28.9" ry="15.8" transform="rotate(0 1525.1 996.4)" stroke-width="4" fill="#fff"/>
<rect x="1496.5" y="970.6" width="57.9" height="25.8" fill="#fff" stroke="none"/>
<path d="M1496.5 970.6L1496.5 996.4M1554.4 970.6L1554.4 996.4" stroke-width="4" fill="none"/>
<ellipse cx="1525.1" cy="970.6" rx="28.9" ry="17.2" transform="rotate(0 1525.1 970.6)" stroke-width="4" fill="#fff"/>
<ellipse cx="1525.1" cy="970.6" rx="20.6" ry="12" transform="rotate(0 1525.1 970.6)" stroke-width="7" fill="none"/>
<path d="M1518 954.9 L1528 950.6 L1535.2 959.2 L1525.1 964.9 Z" stroke-width="3.5" fill="#fff"/>
<path d="M1260.7 1356.7 L1264.4 1348.2 L1288.7 1334.8 L1304.6 1317.8 L1315.5 1310.5 L1330.1 1317.8 L1383.7 1349.4 L1388.6 1355.5 L1388.6 1376.2 L1335 1401.8 L1322.8 1398.1 L1288.7 1379.9 L1279 1372.6 L1260.7 1362.8 Z" stroke-width="4.5" fill="#fff"/>
<path d="M1308.2 1316.5L1377.6 1358M1294.8 1332.4L1358.1 1368.9M1358.1 1368.9L1378.9 1358M1378.9 1358L1380.1 1377.4M1359.4 1370.1L1360.6 1386M1335 1392.1L1335 1401.8M1315.5 1311.7L1383.7 1351.9" stroke-width="3" fill="none"/>
<path d="M1270.5 1348.2 L1293.6 1337.2 L1303.3 1343.3 L1280.2 1355.5 Z" stroke-width="3" fill="none"/>
<path d="M1264.4 1353.1L1280.2 1372.6" stroke-width="6" fill="none"/>
<path d="M1285.1 1356.7 L1308.2 1345.8 L1318 1351.9 L1294.8 1364 Z" stroke-width="3" fill="none"/>
<path d="M1279 1361.6L1294.8 1381.1" stroke-width="6" fill="none"/>
<path d="M1299.7 1365.3 L1322.8 1354.3 L1332.6 1360.4 L1309.4 1372.6 Z" stroke-width="3" fill="none"/>
<path d="M1293.6 1370.1L1309.4 1389.6" stroke-width="6" fill="none"/>
<path d="M1314.3 1373.8 L1337.4 1362.8 L1347.2 1368.9 L1324 1381.1 Z" stroke-width="3" fill="none"/>
<path d="M1308.2 1378.7L1324 1398.1" stroke-width="6" fill="none"/>
<path d="M1784.6 1185.4 L1784.6 902.2 C1784.6 849.2 1813.8 814.5 1855.9 796.3" stroke-width="5" fill="none"/>
<path d="M1855.9 796.3L2102.5 655.6M2186.6 655.6L2294.4 717" stroke-width="5" fill="none"/>
<path d="M2102.5 655.6 C2108 654.1 2125.1 647.8 2135.4 646.4 C2145.8 645.1 2156.1 646 2164.6 647.5 C2173.2 649.1 2182.9 654.2 2186.6 655.6" stroke-width="5" fill="none"/>
<path d="M2294.4 717 L2295.5 732.3 L2318.1 708.6" stroke-width="5" fill="none"/>
<path d="M2318.1 708.6 C2321.5 707.6 2332.2 702 2338.2 703.1 C2344.2 704.1 2350.9 710.5 2353.9 714.8 C2357 719 2356 726.3 2356.5 728.7" stroke-width="5" fill="none"/>
<path d="M2356.5 728.7L2356.5 873M2356.5 873L2285.2 1002.7M2285.2 1002.7L2252.3 1021" stroke-width="5" fill="none"/>
<path d="M2329.1 805.4L2329.1 882.1M2329.1 882.1L2257.8 1010" stroke-width="4" fill="none"/>
<path d="M2329.1 805.4 C2327.8 800.8 2326.9 784.7 2321.8 778 C2316.6 771.3 2307.1 766.4 2298 765.2 C2288.9 764 2272.1 769.8 2266.9 770.7" stroke-width="5" fill="none"/>
<path d="M2266.9 770.7L2036.7 902.2" stroke-width="5" fill="none"/>
<path d="M2036.7 902.2 C2031.9 906.2 2016 916.5 2007.5 926 C1999 935.4 1991.4 946.1 1985.6 958.9 C1979.8 971.7 1974.9 995.4 1972.8 1002.7" stroke-width="5" fill="none"/>
<path d="M1972.8 1002.7L1972.8 1090.4M1983.8 969.8L1983.8 1086.8" stroke-width="4" fill="none"/>
<path d="M1938.1 1105 C1938.1 1079.4 1936.3 982.3 1938.1 951.6 C1939.9 920.8 1945.1 927.2 1949 920.5 C1953 913.8 1959.7 912.9 1961.8 911.4" stroke-width="5" fill="none"/>
<path d="M1945.4 1101.4 C1945.4 1076.4 1944.2 980.2 1945.4 951.6 C1946.6 922.9 1948.7 935.1 1952.7 929.6 C1956.7 924.1 1966.4 920.5 1969.1 918.7" stroke-width="4" fill="none"/>
<path d="M1961.8 911.4 L1998.4 890.2 L1998.4 882.1 L2033.1 858.4 L2038.6 867.5 L2038.6 880.3 L2252.3 747.7 L2252.3 730.5 L2288.9 711.1 L2294.4 717" stroke-width="4" fill="none"/>
<path d="M1969.1 918.7 L2003.9 898.6 L2256 752.4 L2261.5 750.6 L2263.3 739.6 L2296.2 720.6" stroke-width="4" fill="none"/>
<path d="M1938.1 1105L1864.3 1247.5M1945.4 1101.4L1872.3 1243.9M1945.4 1101.4L1972.8 1090.4M1876 1240.2L1901.5 1220.1M1901.5 1220.1L1974.6 1090.4" stroke-width="4" fill="none"/>
<path d="M1784.6 1185.4 L1861.4 1247.5" stroke-width="5" fill="none"/>
<path d="M1815.7 1223.8 L1810.2 1126.9 L1843.1 1145.2 L1848.6 1229.3" stroke-width="4" fill="none"/>
<path d="M1797.4 1196.4 L1817.5 1205.5 L1817.5 1222 L1797.4 1213.9 Z" stroke-width="4" fill="none"/>
<path d="M1837.6 1218.3 L1866.8 1232.9 L1866.8 1247.5 L1837.6 1233.6 Z" stroke-width="4" fill="none"/>
<path d="M2153.7 838.3 C2153.7 852.5 2152.6 965.8 2153.7 980.8 C2154.8 995.8 2161 987 2164.6 988.1 C2168.3 989.2 2186.6 992.8 2190.2 991.7 C2193.9 990.7 2197.9 977.9 2201.2 977.1 C2204.5 976.4 2220.2 981.2 2223.1 984.4 C2226 987.7 2227.5 1006.4 2230.4 1010 C2233.3 1013.7 2250.1 1019.9 2252.3 1021" stroke-width="4" fill="none"/>
<path d="M2217.6 818.2L2252.3 1004.5M2135.4 849.2L2038.6 1050.2M1987.4 973.5L2014.8 1105" stroke-width="4" fill="none"/>
<path d="M2003.9 1031.9 L2018.5 1022.8 L2018.5 1064.8 L2038.6 1050.2" stroke-width="4" fill="none"/>
<ellipse cx="2045.9" cy="779.8" rx="115.1" ry="66.5" transform="rotate(3 2045.9 779.8)" stroke-width="5" fill="none"/>
<ellipse cx="2042.2" cy="778" rx="106" ry="58.5" transform="rotate(3 2042.2 778)" stroke-width="4" fill="none"/>
<ellipse cx="2042.2" cy="798.1" rx="49.3" ry="29.2" transform="rotate(0 2042.2 798.1)" stroke-width="4" fill="none"/>
<path d="M2014.8 798.1 L2025.8 785.3 L2055 785.3 L2066 798.1 L2055 812.7 L2025.8 812.7 Z" stroke-width="4" fill="none"/>
<path d="M1939.9 792.6L1992.9 794.4M1941.7 801.7L1992.9 803.6M2091.6 772.5L2120.8 756.1M2084.2 765.2L2113.5 750.6M1985.6 820L2007.5 816.4M1989.2 827.3L2007.5 823.7M2106.2 728.7L2106.2 754.2M2120.8 734.1L2120.8 761.5" stroke-width="4" fill="none"/>
<path d="M2035.6 630L2035.6 794.4" stroke-width="4" fill="none"/>
<path d="M2036.7 922.3L2036.7 1002.7" stroke-width="4" fill="none"/>
<path d="M2036.7 1033.8L2036.7 1053.9" stroke-width="4" fill="none"/>
<path d="M2036.7 1081.3L2036.7 1112.3" stroke-width="4" fill="none"/>
<path d="M2036.7 1143.4L2036.7 1269.8" stroke-width="4" fill="none"/>
<path d="M2083.5 1525.5L2083.5 1211.9M2107.9 1176.9L2461.1 972.8M2503.7 995.7L2503.7 1300.2M2503.7 1300.2L2476.3 1313.9M2476.3 1313.9L2465.7 1304.8M2465.7 1304.8L2465.7 1074.8M2412.4 1038.3L2168.8 1179.9M2121.6 1263.6L2124.6 1516.4M2124.6 1516.4L2091.1 1534.7M2091.1 1534.7L2083.5 1525.5" stroke-width="5" fill="none"/>
<path d="M2083.5 1211.9 C2084.5 1208.3 2085.5 1196.4 2089.6 1190.6 C2093.6 1184.7 2104.8 1179.1 2107.9 1176.9" stroke-width="5" fill="none"/>
<path d="M2461.1 972.8 C2464.1 972.3 2473.8 969 2479.4 969.8 C2484.9 970.6 2490.5 973.1 2494.6 977.4 C2498.6 981.7 2502.2 992.6 2503.7 995.7" stroke-width="5" fill="none"/>
<path d="M2465.7 1074.8 C2464.6 1070.5 2463.4 1056 2459.6 1049 C2455.8 1042 2449.7 1035.5 2442.8 1032.8 C2436 1030.1 2423.5 1031.9 2418.5 1032.8 C2413.4 1033.7 2413.4 1037.4 2412.4 1038.3" stroke-width="5" fill="none"/>
<path d="M2168.8 1179.9 C2164.2 1183.7 2148.7 1193.4 2141.4 1202.7 C2134 1212.1 2127.9 1226.1 2124.6 1236.2 C2121.3 1246.4 2122.1 1259.1 2121.6 1263.6" stroke-width="5" fill="none"/>
<path d="M2091.1 1534.7L2091.1 1218M2113.9 1185.1L2474.8 976.8M2476.3 1313.9L2480.9 1309.3M2480.9 1309.3L2480.9 1077.9" stroke-width="4" fill="none"/>
<path d="M2091.1 1218 C2092.1 1214.2 2093.4 1200.6 2097.2 1195.1 C2101 1189.6 2111.2 1186.8 2113.9 1185.1" stroke-width="4" fill="none"/>
<path d="M2480.9 1077.9 C2480.1 1074.3 2480.1 1063.6 2476.3 1056.6 C2472.5 1049.6 2461.1 1039.3 2458 1035.9" stroke-width="4" fill="none"/>
<path d="M2661.8 468.3 L2716.8 438.9 L2723.5 442.9 L2759.6 421.4 L2778.4 432.2 L2687.3 484.4 Z" stroke-width="5" fill="none"/>
<path d="M2661.8 468.3 L2661.8 501.8 L2687.3 516.6 L2687.3 484.4 Z" stroke-width="5" fill="none"/>
<path d="M2778.4 432.2 L2778.4 566.1 L2730.2 592.9" stroke-width="5" fill="none"/>
<path d="M2687.3 513.9L2777 464.3M2696.7 512.5L2696.7 575.5M2696.7 575.5L2704.7 582.2M2719.4 499.1L2719.4 563.5M2704.7 560.8L2704.7 591.6M2704.7 591.6L2710.1 591.6M2704.7 560.8L2710.1 563.5M2710.1 563.5L2710.1 591.6M2710.1 563.5L2728.8 562.1M2728.8 562.1L2728.8 592.9M2719.4 571.5L2728.8 566.1" stroke-width="4" fill="none"/>
<path d="M2588.1 730.9 L2908.3 546 L2944.5 564.8 L2623 748.3 Z" stroke-width="5" fill="none"/>
<path d="M2588.1 730.9 L2588.1 748.3 L2623 769.8 L2623 748.3 Z" stroke-width="5" fill="none"/>
<path d="M2592.2 739.8L2620.3 756.4" stroke-width="4" fill="none"/>
<path d="M2944.5 564.8 L2944.5 682.7 L2766.3 785.9" stroke-width="5" fill="none"/>
<path d="M2623 769.8 L2730.2 708.1" stroke-width="5" fill="none"/>
<path d="M2730.2 708.1 C2732.6 707.7 2740 704.3 2744.9 705.5 C2749.8 706.6 2756.1 709.5 2759.6 714.8 C2763.2 720.2 2765.2 733.8 2766.3 737.6" stroke-width="5" fill="none"/>
<path d="M2766.3 737.6 L2766.3 785.9 L2732.8 765.8 L2731.5 710.8" stroke-width="5" fill="none"/>
<path d="M2734.2 722.9L2763.6 740.3" stroke-width="4" fill="none"/>
<path d="M2039.8 434.7L2040.7 504.1" stroke-width="4.5" fill="none"/>
<path d="M1941.1 492.3 L1941.1 498.7 L2013.3 534.3 L2016.9 526.1 L2038.9 499.6 L2009.6 493.2 L1976.7 491.4 Z" stroke-width="4" fill="#fff"/>
<path d="M2051.7 514.2 C2053.2 511 2057.1 501.3 2060.8 495 C2064.4 488.8 2068.6 482.4 2073.6 476.7 C2078.6 471.1 2085.2 461.5 2090.9 461.2 C2096.7 460.9 2102.4 469.3 2108.3 474.9 C2114.2 480.5 2121.1 488 2126.6 495 C2132 502 2137.2 509.6 2141.2 516.9 C2145.1 524.2 2148.3 531.6 2150.3 538.9 C2152.3 546.2 2153.4 557 2153.1 560.8 C2152.8 564.6 2151.4 563.2 2148.5 561.7 C2145.6 560.2 2138.1 554.5 2135.7 551.7 C2133.3 548.8 2134.2 545.6 2133.9 544.3" stroke-width="4.5" fill="none"/>
<path d="M2065.4 540.7 C2069.8 540.1 2082.9 537.7 2091.9 537.4 C2100.8 537.1 2112.1 537.7 2119.3 538.9 C2126.4 540 2132.5 541.3 2134.8 544.3 C2137.1 547.4 2135.6 550.7 2133 557.1 C2130.4 563.5 2125.2 574.5 2119.3 582.7 C2113.3 590.9 2104.9 600.1 2097.3 606.5 C2089.7 612.9 2082.4 617.1 2073.6 621.1 C2064.7 625 2049.8 630.1 2044.3 630.2 C2038.9 630.4 2039.8 626.3 2040.7 622 C2041.6 617.7 2047.5 610.9 2049.8 604.6 C2052.1 598.4 2054.4 590.6 2054.4 584.5 C2054.4 578.5 2051.7 572.1 2049.8 568.1 C2048 564.1 2042.5 563.5 2043.4 560.8 C2044.3 558 2053.3 553.2 2055.3 551.7" stroke-width="4.5" fill="none"/>
<path d="M2030.6 549.8 C2027.1 549.8 2018.6 548.3 2009.6 549.8 C2000.6 551.3 1987.1 556.4 1976.7 559 C1966.4 561.6 1955 564 1947.5 565.4 C1940 566.7 1934.9 565.5 1932 567.2 C1929.1 568.9 1929.1 572.4 1930.1 575.4 C1931.2 578.5 1935.2 583.3 1938.4 585.5 C1941.6 587.6 1941.4 588.8 1949.3 588.2 C1957.3 587.6 1975.8 585.2 1985.9 581.8 C1995.9 578.5 2002.2 573.3 2009.6 568.1 C2017.1 562.9 2027.1 553.6 2030.6 550.7" stroke-width="4.5" fill="none"/>
<path d="M2014.7 527.9 C2014.7 531.3 2014.1 542.1 2014.7 548 C2015.4 553.9 2015.4 559.9 2018.8 563.5 C2022.2 567.2 2030.6 569 2035.2 569.9 C2039.8 570.8 2044.3 569.2 2046.2 569" stroke-width="4.5" fill="none"/>

<ellipse cx="2039.8" cy="527.9" rx="25.6" ry="15.5" transform="rotate(-3 2039.8 527.9)" stroke-width="4.5" fill="#fff"/>
<path d="M2065.4 527.9L2065.4 538.9" stroke-width="4.5" fill="none"/>
<ellipse cx="2038.9" cy="527.9" rx="5.5" ry="3.7" transform="rotate(0 2038.9 527.9)" stroke-width="3" fill="#000"/>
<path d="M2039.4 434.7L2040.7 516.9" stroke-width="4.5" fill="none"/>
<path d="M2649.2 1400 L2649.2 908.6 L2667 898.4 L2699.4 916.5 L3001 746.7" stroke-width="5" fill="none"/>
<path d="M2667 898.4L2667 1400" stroke-width="7" fill="none"/>
<path d="M2699.4 916.5L2699.4 1400" stroke-width="7" fill="none"/>
<path d="M3001 746.7 L3002.5 756.2 L2993 761 L2993 853 L3002.5 857.8 L3002.5 1400" stroke-width="4.5" fill="none"/>
<path d="M2971.7 756.2 L2971.7 721.3 L2988.3 711.7 L2989.8 737.1 L3002.5 741.9 L3002.5 754.6" stroke-width="4" fill="none"/>
<path d="M2971.7 721.3 L2989.8 734" stroke-width="4" fill="none"/>
<path d="M2978.7 753 L2978.7 743.5 L2985.1 741.9 L3001 749.8" stroke-width="3.5" fill="none"/>
<path d="M2755.3 917.7 A6 6 0 0 1 2767.3 909.9 L2767.3 970.8 A6 6 0 0 1 2755.3 978.6 Z" stroke-width="4" fill="none"/>
<path d="M2773.9 906.6 A6 6 0 0 1 2785.9 898.8 L2785.9 960 A6 6 0 0 1 2773.9 967.8 Z" stroke-width="4" fill="none"/>
<path d="M2792.5 895.5 A6 6 0 0 1 2804.5 887.7 L2804.5 949.2 A6 6 0 0 1 2792.5 957 Z" stroke-width="4" fill="none"/>
<path d="M2811.1 884.4 A6 6 0 0 1 2823.1 876.6 L2823.1 938.4 A6 6 0 0 1 2811.1 946.2 Z" stroke-width="4" fill="none"/>
<path d="M2829.7 873.3 A6 6 0 0 1 2841.7 865.5 L2841.7 927.7 A6 6 0 0 1 2829.7 935.5 Z" stroke-width="4" fill="none"/>
<path d="M2848.3 862.2 A6 6 0 0 1 2860.3 854.4 L2860.3 916.9 A6 6 0 0 1 2848.3 924.7 Z" stroke-width="4" fill="none"/>
<path d="M2843.8 976.8 L2859.7 968.9 L2859.7 977.8 L2843.8 985.7 Z" stroke-width="4" fill="none"/>
<path d="M2774 1016.5 L2789.8 1008.6 L2789.8 1017.5 L2774 1025.4 Z" stroke-width="4" fill="none"/>
<path d="M2850.2 1084.8 L2866 1076.8 L2866 1085.7 L2850.2 1093.7 Z" stroke-width="4" fill="none"/>
<path d="M2769.2 1130.8 L2785.1 1122.9 L2785.1 1131.7 L2769.2 1139.7 Z" stroke-width="4" fill="none"/>
<path d="M2745.4 1070.5 C2748.3 1059.9 2755.2 1053.3 2762.9 1048.3 C2770.5 1043.2 2783.2 1039.8 2791.4 1040.3 C2799.6 1040.8 2809.2 1045.9 2812.1 1051.4 C2815 1057 2813.4 1065.7 2808.9 1073.7 C2804.4 1081.6 2793.8 1091.4 2785.1 1099 C2776.3 1106.7 2763.1 1117.6 2756.5 1119.7 C2749.9 1121.8 2747.2 1119.9 2745.4 1111.7 C2743.5 1103.5 2742.5 1081.1 2745.4 1070.5 Z" stroke-width="4" fill="none"/>
<ellipse cx="2656.5" cy="1080" rx="3.2" ry="4.4" transform="rotate(0 2656.5 1080)" stroke-width="4" fill="none"/>
<path d="M2649.2 1390 L2649.2 2088 L2668 2076 L2699.4 2094 L2710 2088 L2710 2007" stroke-width="4.5" fill="none"/>
<path d="M3002.5 1390L3002.5 1939" stroke-width="4.5" fill="none"/>
<path d="M2667 1390L2667 2076M2699.4 1390L2699.4 2094" stroke-width="7" fill="none"/>
<path d="M2713.9 2011.5 L2989.3 1856.2 L2989.3 1848 L3001.7 1937 L2726.3 2096.4 L2713.9 2009.5 L2709.7 2007.4" stroke-width="4" fill="none"/>
<path d="M2707.7 1570.5 L2796.7 1522.9 L2796.7 1628.5 L2707.7 1676.1 Z" stroke-width="4.5" fill="none"/>
<path d="M2705.6 1721.7 L2796.7 1672 L2796.7 1707.2 L2705.6 1754.8 Z" stroke-width="4.5" fill="none"/>
<ellipse cx="2720.1" cy="1553.9" rx="3.7" ry="4.6" transform="rotate(0 2720.1 1553.9)" stroke-width="4" fill="none"/>
<ellipse cx="2778.1" cy="1520.8" rx="3.7" ry="4.6" transform="rotate(0 2778.1 1520.8)" stroke-width="4" fill="none"/>
<ellipse cx="2718" cy="1705.1" rx="3.7" ry="4.6" transform="rotate(0 2718 1705.1)" stroke-width="4" fill="none"/>
<ellipse cx="2755.3" cy="1667.8" rx="3.7" ry="4.6" transform="rotate(0 2755.3 1667.8)" stroke-width="4" fill="none"/>
<ellipse cx="2780.1" cy="1667.8" rx="3.7" ry="4.6" transform="rotate(0 2780.1 1667.8)" stroke-width="4" fill="none"/>
<ellipse cx="2655.9" cy="1471.1" rx="3.7" ry="4.6" transform="rotate(0 2655.9 1471.1)" stroke-width="4" fill="none"/>
<ellipse cx="2655.9" cy="1992.9" rx="3.7" ry="4.6" transform="rotate(0 2655.9 1992.9)" stroke-width="4" fill="none"/>
<ellipse cx="2655.9" cy="2059.2" rx="3.7" ry="4.6" transform="rotate(0 2655.9 2059.2)" stroke-width="4" fill="none"/>
<ellipse cx="2991.4" cy="1920.4" rx="3.7" ry="4.6" transform="rotate(0 2991.4 1920.4)" stroke-width="4" fill="none"/>
<ellipse cx="2728.4" cy="2069.5" rx="3.7" ry="4.6" transform="rotate(0 2728.4 2069.5)" stroke-width="4" fill="none"/>
<path d="M2718 1705.1 L2856.8 1785.8" stroke-width="5" fill="none" stroke-dasharray="22 16" stroke-linecap="butt"/>
<path d="M2856.8 1785.8 L2856.8 1632.6" stroke-width="5" fill="none" stroke-dasharray="22 16" stroke-linecap="butt"/>
<path d="M2856.8 1632.6 L3034.8 1734.1" stroke-width="5" fill="none" stroke-dasharray="22 16" stroke-linecap="butt"/>
<path d="M3051.4 1748.6 L3138.4 1794.1" stroke-width="5" fill="none" stroke-dasharray="22 16" stroke-linecap="butt"/>
<path d="M2991.4 1920.4 L3014.1 1934.9" stroke-width="5" fill="none" stroke-dasharray="22 16" stroke-linecap="butt"/>
<path d="M2728.4 2069.5 L2784.3 2100.6" stroke-width="5" fill="none" stroke-dasharray="22 16" stroke-linecap="butt"/>
<path d="M3016.2 1748.6 L3132.2 1686.5 L3134.2 1707.2 L3036.9 1761 Z" stroke-width="4.5" fill="none"/>
<path d="M3036.9 1761 L3138.4 1707.2 L3165.3 1756.9 L3068 1812.8 Z" stroke-width="4.5" fill="none"/>
<path d="M3036.9 1761L3034.8 1744.4M3045.2 1763.1L3138.4 1711.3" stroke-width="3.5" fill="none"/>
<ellipse cx="3049.3" cy="1742.4" rx="3.7" ry="4.6" transform="rotate(0 3049.3 1742.4)" stroke-width="4" fill="none"/>
<ellipse cx="3117.7" cy="1701" rx="3.7" ry="4.6" transform="rotate(0 3117.7 1701)" stroke-width="4" fill="none"/>
<g transform="translate(3206.7 1829.3) rotate(-155.9) scale(1.0)"><path d="M8 -12 L49.8 -12 Q65.8 -9 65.8 0 Q65.8 9 49.8 12 L8 12" fill="#fff" stroke-width="3.5"/><path d="M14 -12 L17 5" stroke-width="2.8000000000000003" fill="none"/><path d="M21.6 -12 L24.6 5" stroke-width="2.8000000000000003" fill="none"/><path d="M29.1 -12 L32.1 5" stroke-width="2.8000000000000003" fill="none"/><path d="M36.7 -12 L39.7 5" stroke-width="2.8000000000000003" fill="none"/><path d="M44.2 -12 L47.2 5" stroke-width="2.8000000000000003" fill="none"/><path d="M51.8 -12 L54.8 5" stroke-width="2.8000000000000003" fill="none"/><ellipse cx="4" cy="0" rx="12" ry="24" fill="#fff" stroke-width="3.5"/><path d="M-14 -19 L2 -19 L2 19 L-14 19 Z" fill="#fff" stroke-width="3.5"/><path d="M-14 -7 L2 -8 M-14 8 L2 8" stroke-width="2.8000000000000003" fill="none"/><ellipse cx="-14" cy="0" rx="11" ry="19" fill="#fff" stroke-width="3.5"/><path d="M-19 -15 L-16 15 M-13 -15 L-10 15" stroke-width="2.8000000000000003" fill="none"/></g>
<g transform="translate(3078.3 1966) rotate(-156.8) scale(1.0)"><path d="M8 -12 L47.1 -12 Q63.1 -9 63.1 0 Q63.1 9 47.1 12 L8 12" fill="#fff" stroke-width="3.5"/><path d="M14 -12 L17 5" stroke-width="2.8000000000000003" fill="none"/><path d="M21 -12 L24 5" stroke-width="2.8000000000000003" fill="none"/><path d="M28 -12 L31 5" stroke-width="2.8000000000000003" fill="none"/><path d="M35 -12 L38 5" stroke-width="2.8000000000000003" fill="none"/><path d="M42.1 -12 L45.1 5" stroke-width="2.8000000000000003" fill="none"/><path d="M49.1 -12 L52.1 5" stroke-width="2.8000000000000003" fill="none"/><ellipse cx="4" cy="0" rx="12" ry="24" fill="#fff" stroke-width="3.5"/><path d="M-14 -19 L2 -19 L2 19 L-14 19 Z" fill="#fff" stroke-width="3.5"/><path d="M-14 -7 L2 -8 M-14 8 L2 8" stroke-width="2.8000000000000003" fill="none"/><ellipse cx="-14" cy="0" rx="11" ry="19" fill="#fff" stroke-width="3.5"/><path d="M-19 -15 L-16 15 M-13 -15 L-10 15" stroke-width="2.8000000000000003" fill="none"/></g>
<g transform="translate(2848.5 2137.9) rotate(-152.6) scale(1.0)"><path d="M8 -12 L47 -12 Q63 -9 63 0 Q63 9 47 12 L8 12" fill="#fff" stroke-width="3.5"/><path d="M14 -12 L17 5" stroke-width="2.8000000000000003" fill="none"/><path d="M21 -12 L24 5" stroke-width="2.8000000000000003" fill="none"/><path d="M28 -12 L31 5" stroke-width="2.8000000000000003" fill="none"/><path d="M35 -12 L38 5" stroke-width="2.8000000000000003" fill="none"/><path d="M42 -12 L45 5" stroke-width="2.8000000000000003" fill="none"/><path d="M49 -12 L52 5" stroke-width="2.8000000000000003" fill="none"/><ellipse cx="4" cy="0" rx="12" ry="24" fill="#fff" stroke-width="3.5"/><path d="M-14 -19 L2 -19 L2 19 L-14 19 Z" fill="#fff" stroke-width="3.5"/><path d="M-14 -7 L2 -8 M-14 8 L2 8" stroke-width="2.8000000000000003" fill="none"/><ellipse cx="-14" cy="0" rx="11" ry="19" fill="#fff" stroke-width="3.5"/><path d="M-19 -15 L-16 15 M-13 -15 L-10 15" stroke-width="2.8000000000000003" fill="none"/></g>
<path d="M2037.6 1143L2037.6 1302" stroke-width="4.5" fill="none"/>
<path d="M2037.6 1332L2037.6 1364" stroke-width="4.5" fill="none"/>
<path d="M2037.6 1379L2037.6 1411" stroke-width="4.5" fill="none"/>
<path d="M2037.6 1442L2037.6 1521" stroke-width="4.5" fill="none"/>
<path d="M2033.4 1535.6 L2038 1531.5 L2042.7 1535.6 L2042.7 1604.1 L2033.4 1604.1 Z" stroke-width="4" fill="#fff"/>
<path d="M1979.1 1601.4 C1982.3 1598.4 1988.7 1588.1 1998.3 1583.6 C2007.9 1579.1 2023.9 1575.2 2036.6 1574.5 C2049.4 1573.9 2065 1575.9 2075 1579.5 C2085.1 1583 2092.3 1590 2096.9 1595.9 C2101.6 1601.9 2102 1607.3 2103 1615.1 C2103.9 1622.9 2103.9 1634.7 2102.4 1642.5 C2101 1650.3 2100.6 1655.8 2094.2 1661.7 C2087.8 1667.6 2073.6 1674 2064 1678.1 C2054.5 1682.2 2041.2 1685 2036.6 1686.4" stroke-width="5" fill="none"/>
<path d="M2103 1615.1 C2102 1617.8 2100.7 1627 2096.9 1631.5 C2093.2 1636.1 2083.2 1640.7 2080.5 1642.5" stroke-width="4" fill="none"/>
<ellipse cx="2037.2" cy="1609.6" rx="36.4" ry="23.3" transform="rotate(0 2037.2 1609.6)" stroke-width="4" fill="none"/>
<ellipse cx="2038" cy="1606.9" rx="12.3" ry="8.2" transform="rotate(0 2038 1606.9)" stroke-width="6" fill="none"/>
<ellipse cx="1987.3" cy="1600" rx="3.8" ry="3.3" transform="rotate(0 1987.3 1600)" stroke-width="3" fill="#000"/>
<ellipse cx="2022.9" cy="1579.5" rx="3.8" ry="3.3" transform="rotate(0 2022.9 1579.5)" stroke-width="3" fill="#000"/>
<ellipse cx="2072.3" cy="1585" rx="3.8" ry="3.3" transform="rotate(0 2072.3 1585)" stroke-width="3" fill="#000"/>
<ellipse cx="2090.1" cy="1616.5" rx="3.8" ry="3.3" transform="rotate(0 2090.1 1616.5)" stroke-width="3" fill="#000"/>
<ellipse cx="2062.7" cy="1637" rx="3.8" ry="3.3" transform="rotate(0 2062.7 1637)" stroke-width="3" fill="#000"/>
<path d="M1947.6 1617.8 L1968.1 1609.6 L1998.3 1624.7 L1970.9 1638.4 L1947.6 1626.1 Z" stroke-width="4.5" fill="#fff"/>
<path d="M1966.8 1648 L1998.3 1630.2 L2044.9 1649.4 L2083.2 1637 L2083.2 1656.2 L2016.1 1697.3 L1966.8 1669.9 Z" stroke-width="4.5" fill="#fff"/>
<path d="M2016.1 1669.9L2016.1 1697.3M1966.8 1648L2016.1 1669.9M2016.1 1669.9L2083.2 1637M1947.6 1617.8L1947.6 1637M1947.6 1637L1966.8 1648M2046.2 1649.4L2047.6 1661.7M2047.6 1661.7L2083.2 1643.9M1968.1 1612.4L1998.3 1626.1" stroke-width="4" fill="none"/>
<path d="M1954.4 1642.5 C1948.9 1645 1932 1652.1 1921.5 1657.6 C1911 1663.1 1899.6 1669.7 1891.4 1675.4 C1883.2 1681.1 1875.4 1689.1 1872.2 1691.8" stroke-width="3" fill="none"/>
<path d="M1954.4 1644.5 C1948.9 1647.2 1932 1655.2 1921.5 1660.9 C1911 1666.6 1899.6 1673.2 1891.4 1678.7 C1883.2 1684.1 1875.4 1691 1872.2 1693.5" stroke-width="3" fill="none"/>
<path d="M1954.4 1646.5 C1948.9 1649.4 1932 1658.2 1921.5 1664.2 C1911 1670.1 1899.6 1676.8 1891.4 1682 C1883.2 1687.1 1875.4 1692.9 1872.2 1695.1" stroke-width="3" fill="none"/>
<path d="M1954.4 1648.4 C1948.9 1651.6 1932 1661.3 1921.5 1667.4 C1911 1673.6 1899.6 1680.4 1891.4 1685.3 C1883.2 1690.1 1875.4 1694.8 1872.2 1696.8" stroke-width="3" fill="none"/>
<path d="M1943.5 1649.4 C1937.5 1653.7 1918.3 1665.8 1907.8 1675.4 C1897.3 1685 1886.4 1702.3 1880.4 1706.9 C1874.5 1711.5 1873.6 1703.5 1872.2 1702.8" stroke-width="3" fill="none"/>
<path d="M1817.4 1709.6 L1853 1689.1 L1869.5 1691.8 L1872.2 1716.5 L1833.8 1735.7 L1817.4 1724.7 Z" stroke-width="4.5" fill="#fff"/>
<path d="M1833.8 1713.8L1833.8 1735.7M1817.4 1709.6L1833.8 1713.8M1833.8 1713.8L1869.5 1693.2M1864 1697.3L1866.7 1716.5" stroke-width="4" fill="none"/>
<path d="M1880.4 1752.7 L1958.5 1797.3 L1954.4 1812.4 L1870.8 1763.6 Z" stroke-width="4" fill="#fff"/>
<ellipse cx="1870.8" cy="1753.5" rx="17" ry="11.5" transform="rotate(15 1870.8 1753.5)" stroke-width="4.5" fill="#fff"/>
<ellipse cx="1869.5" cy="1750.8" rx="6.9" ry="4.9" transform="rotate(0 1869.5 1750.8)" stroke-width="4" fill="none"/>
<ellipse cx="1966.8" cy="1812.4" rx="17" ry="11" transform="rotate(15 1966.8 1812.4)" stroke-width="4.5" fill="#fff"/>
<path d="M1959.9 1794.6 L1966.8 1790.5 L1973.6 1794.6 L1973.6 1809.7 L1959.9 1809.7 Z" stroke-width="4" fill="#fff"/>
<path d="M2076.4 1793.2 L2128.4 1768.6 L2135.8 1774 L2138.6 1833 L2087.3 1859.6 L2077.8 1852.2 Z" stroke-width="6" fill="none"/>
<path d="M2076.4 1793.2L2084.6 1800.1M2084.6 1800.1L2133.9 1774M2084.6 1800.1L2087.3 1859.6" stroke-width="4" fill="none"/>
<path d="M2043.5 1748L2043.5 2019.3" stroke-width="4" fill="none"/>
<path d="M1929.8 1880.9 C1929.9 1891.3 1930.2 1971.9 1931.1 1985.1 C1932.1 1998.2 1935.9 2007.5 1939.4 2012.5 C1942.8 2017.4 1950.7 2025.3 1965.4 2034.4 C1980.1 2043.4 2072.7 2096.9 2086 2102.9 C2099.3 2108.9 2096.4 2099.9 2098.3 2094.7 C2100.2 2089.5 2103.8 2061 2105.2 2050.8 C2106.5 2040.7 2110.8 1999.5 2112 1993.3 C2113.2 1987.1 2116.9 1989.6 2117.5 1989.2" stroke-width="4" fill="none"/>
<path d="M1921.5 1880.9 C1921.5 1879.8 1920.7 1871.5 1921.5 1870 C1922.4 1868.5 1928.4 1865.6 1929.8 1865.9 C1931.1 1866.1 1934.7 1863 1935.2 1872.7 C1935.8 1882.4 1935 1951.4 1935.2 1963.1 C1935.5 1974.9 1936.3 1985.9 1938 1990.5 C1939.6 1995.2 1937.4 2000.7 1951.7 2009.7 C1965.9 2018.8 2066.5 2074.1 2080.5 2081 C2094.5 2087.8 2089.3 2087.3 2091.5 2078.2 C2093.6 2069.2 2101.3 1999.3 2102.4 1990.5" stroke-width="4" fill="none"/>
<path d="M1929.8 1865.9 L1973.6 1841.2 L1981.8 1849.4 L1988.7 1938.5 L1998.3 1954.9 L2102.4 2012.5" stroke-width="4" fill="none"/>
<path d="M1935.2 1876.8 L1979.1 1853.5" stroke-width="4" fill="none"/>
<path d="M1935.2 1965.9 L1988.7 1938.5" stroke-width="4" fill="none"/>
<path d="M1948.9 1990.5 L1998.3 1960.4" stroke-width="4" fill="none"/>
<path d="M2105.2 1990.5 L2154.5 1965.9 L2162.7 1974.1 L2162.7 1982.3 L2154.5 1987.8 L2151.7 2059.1 L2146.3 2074.1 L2129.8 2078.2 L2105.2 2082.4" stroke-width="4" fill="none"/>
<path d="M2112 1993.3 L2114.7 2007 L2129.8 2001.5 L2129.8 1996 L2154.5 1985.1" stroke-width="4" fill="none"/>
<path d="M2105.2 2064.5 L2149 2041.2 L2149 2053.6" stroke-width="4" fill="none"/>
<path d="M2012 2012.5 L2022.9 2001.5 L2050.3 1997.4 L2072.3 2012.5 L2066.8 2023.4 L2033.9 2027.5 Z" stroke-width="4" fill="none"/>
<path d="M2022.9 2002.9 L2036.6 2027.5" stroke-width="3" fill="none"/>
<path d="M2050.3 1997.4 L2066.8 2022.1" stroke-width="3" fill="none"/>
<path d="M2534.2 1567.8 L2585.8 1541.3 L2589.8 1544 L2609.6 1729.2 L2568.6 1753 L2560.7 1746.3 L2534.2 1592.9 Z" stroke-width="4.5" fill="none"/>
<path d="M2536.9 1592.9L2562.5 1749" stroke-width="7" fill="none"/>
<path d="M2540.8 1569.1 L2540.8 1592.9 L2568.6 1577" stroke-width="3.5" fill="none"/>
<path d="M2540.8 1569.1L2587.1 1545.3" stroke-width="3.5" fill="none"/>
<path d="M2568.6 1566.5 C2569.5 1565.8 2572.2 1562.5 2573.9 1562.5 C2575.7 1562.5 2578.3 1565.8 2579.2 1566.5" stroke-width="4.5" fill="none"/>
<path d="M2568.6 1566.5L2596.4 1737.1M2579.2 1566.5L2585.8 1582.3M2584.5 1582.3L2609.6 1729.2M2568.6 1577L2584.5 1571.7" stroke-width="4.5" fill="none"/>
<ellipse cx="2574.4" cy="1709.3" rx="3.7" ry="4.2" transform="rotate(0 2574.4 1709.3)" stroke-width="5" fill="none"/>
<path d="M2596.4 1737.1L2609.6 1729.2" stroke-width="4.5" fill="none"/>
<path d="M2526.3 1890.5 L2575.2 1861.4 L2583.2 1866.7 L2611 2051.9 L2569.9 2077 L2543.5 2065.1 L2534.2 2066.5 L2526.3 2061.2 Z" stroke-width="4.5" fill="none"/>
<path d="M2527.6 1891.9L2527.6 2062.5" stroke-width="7" fill="none"/>
<path d="M2532.9 1894.5L2534.2 2065.1M2534.2 1889.2L2580.5 1864.1M2555.4 1902.4L2581.9 1887.9M2544.8 1918.3L2547.5 2066.5M2555.4 1899.8L2571.3 2077M2542.2 1989.7L2556.7 2058.5M2543.5 1918.3L2556.7 1910.4" stroke-width="3.5" fill="none"/>
<path d="M2544.8 1899.8 C2545.7 1898.9 2548.3 1894.5 2550.1 1894.5 C2551.9 1894.5 2554.5 1898.9 2555.4 1899.8" stroke-width="4.5" fill="none"/>
<path d="M2543.5 1995L2555.4 1992.4" stroke-width="3.5" fill="none"/>
<path d="M2543.5 2021.5L2555.4 2018.8" stroke-width="3.5" fill="none"/>
<path d="M2543.5 2042.6L2555.4 2040" stroke-width="3.5" fill="none"/>
<ellipse cx="2589.8" cy="2024.1" rx="3.7" ry="4.2" transform="rotate(0 2589.8 2024.1)" stroke-width="5" fill="none"/>
<path d="M1574.6 2433.7 C1577.1 2428.2 1583.1 2411.7 1589.2 2400.8 C1595.3 2389.8 1602.3 2377.3 1611.2 2367.9 C1620 2358.5 1637 2348.1 1642.2 2344.1" stroke-width="3.5" fill="none"/>
<path d="M1642.2 2344.1L1709.8 2305.8M1680.6 2395.3L1739 2364.2M1647.7 2419.1L1742.7 2367.9" stroke-width="3.5" fill="none"/>
<path d="M1775.6 2300.3L2032 2148M1823 2342L2057 2204M1815.8 2349.6L2049.5 2222" stroke-width="3.5" fill="none"/>
<path d="M1709.8 2305.8 C1715.3 2304.4 1731.7 2298.7 1742.7 2297.7 C1753.7 2296.8 1770.1 2299.9 1775.6 2300.3" stroke-width="3.5" fill="none"/>
<path d="M1574.6 2433.7 C1576.4 2435.8 1580.1 2443.4 1585.6 2446.5 C1591.1 2449.5 1599.6 2452.2 1607.5 2451.9 C1615.4 2451.6 1628.8 2445.9 1633.1 2444.6" stroke-width="3.5" fill="none"/>
<path d="M1633.1 2444.6 C1636.7 2439.8 1647.1 2423.6 1655 2415.4 C1662.9 2407.2 1676.3 2398.7 1680.6 2395.3" stroke-width="3.5" fill="none"/>
<path d="M1739 2366.1 C1743.3 2366.7 1755.5 2369.7 1764.6 2369.7 C1773.8 2369.7 1785.3 2369.4 1793.9 2366.1 C1802.4 2362.7 1812.1 2352.4 1815.8 2349.6" stroke-width="3.5" fill="none"/>
<path d="M1644 2346 C1648.3 2349 1663.5 2356.3 1669.6 2364.2 C1675.7 2372.2 1678.8 2388.6 1680.6 2393.5" stroke-width="3.5" fill="none"/>
<path d="M1709.8 2305.8 C1713.5 2310 1726.3 2321.6 1731.7 2331.4 C1737.2 2341.1 1740.9 2358.8 1742.7 2364.2" stroke-width="3.5" fill="none"/>
<path d="M1757.3 2302.1 C1759.4 2307.6 1768.3 2324.4 1770.1 2335 C1771.9 2345.7 1768.6 2360.9 1768.3 2366.1" stroke-width="3.5" fill="none"/>
<path d="M1779.2 2298.5 C1781.4 2304 1790.2 2320.7 1792 2331.4 C1793.9 2342 1790.5 2357.2 1790.2 2362.4" stroke-width="3.5" fill="none"/>
<path d="M1797.5 2298.5 C1799.6 2304 1808.5 2320.7 1810.3 2331.4 C1812.1 2342 1808.8 2357.2 1808.5 2362.4" stroke-width="3.5" fill="none"/>
<path d="M2032.7 2145.9 C2053.3 2148.4 2073.8 2167.5 2078.4 2188.5 C2083 2209.5 2070.1 2224.5 2049.5 2222" stroke-width="3" fill="none"/>
<path d="M2030.1 2147.4 C2048.8 2151 2067.7 2171 2072.3 2192 C2077 2213 2065.6 2227.1 2046.9 2223.5" stroke-width="3" fill="none"/>
<path d="M2027.5 2148.9 C2044.3 2153.6 2061.6 2174.5 2066.3 2195.5 C2070.9 2216.5 2061.1 2229.7 2044.3 2225" stroke-width="3" fill="none"/>
<path d="M2024.9 2150.4 C2039.8 2156.2 2055.6 2178 2060.2 2199 C2064.9 2220 2056.6 2232.3 2041.7 2226.5" stroke-width="3" fill="none"/>
<path d="M1921.6 2208.3 C1943 2210 1964.8 2228.4 1970.3 2249.4 C1975.8 2270.4 1962.8 2286.1 1941.4 2284.4" stroke-width="3" fill="none"/>
<path d="M1919 2209.8 C1938.5 2212.6 1958.8 2231.9 1964.2 2252.9 C1969.7 2273.9 1958.3 2288.7 1938.8 2285.9" stroke-width="3" fill="none"/>
<path d="M1916.4 2211.3 C1934 2215.2 1952.7 2235.4 1958.2 2256.4 C1963.6 2277.4 1953.8 2291.3 1936.2 2287.4" stroke-width="3" fill="none"/>
<path d="M1913.8 2212.8 C1929.5 2217.8 1946.6 2238.9 1952.1 2259.9 C1957.6 2280.9 1949.3 2293.9 1933.6 2288.9" stroke-width="3" fill="none"/>
<path d="M1869.8 2240.3 C1892.1 2240.7 1913.2 2258.5 1917 2279.9 C1920.8 2301.3 1905.8 2318.3 1883.5 2317.9" stroke-width="3" fill="none"/>
<path d="M1867.2 2241.8 C1887.6 2243.3 1907.2 2262 1910.9 2283.4 C1914.7 2304.8 1901.3 2320.9 1880.9 2319.4" stroke-width="3" fill="none"/>
<path d="M1864.6 2243.3 C1883.1 2246 1901.1 2265.5 1904.9 2286.9 C1908.7 2308.3 1896.8 2323.6 1878.3 2320.9" stroke-width="3" fill="none"/>
<path d="M1862 2244.8 C1878.6 2248.6 1895 2269 1898.8 2290.4 C1902.6 2311.8 1892.3 2326.2 1875.7 2322.4" stroke-width="3" fill="none"/>
<path d="M1675.1 2298.5 L1706.2 2287.5 L1708 2324.1 L1676.9 2336.8 Z" stroke-width="3.5" fill="#fff"/>
<path d="M1689.7 2305.8 L1697 2302.9 L1697 2316.7 L1689.7 2319.7 Z" stroke-width="3.5" fill="none"/>
<path d="M1753.7 2568.9 L1753.7 2494 L1834.1 2448.3" stroke-width="3.5" fill="none"/>
<path d="M1834.1 2448.3 C1836.5 2447.6 1843.8 2443.6 1848.7 2443.9 C1853.5 2444.2 1860.8 2449.1 1863.3 2450.1" stroke-width="3.5" fill="none"/>
<path d="M1863.3 2450.1 L1932.7 2488.5 L1947.3 2508.6 L1985.7 2528.7 L1989.3 2519.5 L1996.7 2523.2 L1996.7 2550.6 L1989.3 2556.1 L1932.7 2526.9 L1907.1 2554.3" stroke-width="3.5" fill="none"/>
<path d="M1762.8 2572.5 L1839.5 2530.5" stroke-width="3.5" fill="none"/>
<path d="M1753.7 2568.9 L1762.8 2572.5 L1762.8 2501.3 L1837.7 2455.6 L1837.7 2532.3" stroke-width="3.5" fill="none"/>
<path d="M1861.5 2453.8L1861.5 2528.7M1861.5 2528.7L1888.9 2548.8M1947.3 2508.6L1943.7 2514.1M1989.3 2528.7L1989.3 2556.1" stroke-width="3.5" fill="none"/>
<path d="M1729.9 2506.8 L1742.7 2501.3 L1759.1 2510.4 L1759.1 2561.6 L1744.5 2557.9 L1729.9 2552.4 Z" stroke-width="3.5" fill="#fff"/>
<path d="M1742.7 2510.4L1742.7 2557.9" stroke-width="3.5" fill="none"/>
<ellipse cx="1812.1" cy="2506.8" rx="10.2" ry="13.2" transform="rotate(15 1812.1 2506.8)" stroke-width="3.5" fill="none"/>
<path d="M1706.2 2448.3 L1762.8 2477.5" stroke-width="5" fill="none" stroke-dasharray="28 14" stroke-linecap="butt"/>
<path d="M1815.8 2508.6L1888.9 2548.8" stroke-width="5" fill="none"/>
<path d="M1903.5 2561.6 L2025.9 2631" stroke-width="5" fill="none" stroke-dasharray="50 35" stroke-linecap="butt"/>
<g transform="translate(2089.8 2669.4) rotate(-154.2) scale(1.0)"><path d="M8 -12 L46.9 -12 Q62.9 -9 62.9 0 Q62.9 9 46.9 12 L8 12" fill="#fff" stroke-width="3.5"/><path d="M14 -12 L17 5" stroke-width="2.8000000000000003" fill="none"/><path d="M21 -12 L24 5" stroke-width="2.8000000000000003" fill="none"/><path d="M28 -12 L31 5" stroke-width="2.8000000000000003" fill="none"/><path d="M35 -12 L38 5" stroke-width="2.8000000000000003" fill="none"/><path d="M41.9 -12 L44.9 5" stroke-width="2.8000000000000003" fill="none"/><path d="M48.9 -12 L51.9 5" stroke-width="2.8000000000000003" fill="none"/><ellipse cx="4" cy="0" rx="12" ry="24" fill="#fff" stroke-width="3.5"/><path d="M-14 -19 L2 -19 L2 19 L-14 19 Z" fill="#fff" stroke-width="3.5"/><path d="M-14 -7 L2 -8 M-14 8 L2 8" stroke-width="2.8000000000000003" fill="none"/><ellipse cx="-14" cy="0" rx="11" ry="19" fill="#fff" stroke-width="3.5"/><path d="M-19 -15 L-16 15 M-13 -15 L-10 15" stroke-width="2.8000000000000003" fill="none"/></g>
<path d="M2131.9 2134 C2131.9 2128.6 2129.7 2109.7 2131.9 2101.2 C2134 2092.6 2140.4 2082.9 2144.6 2082.9 C2148.9 2082.9 2155.3 2092.6 2157.4 2101.2 C2159.6 2109.7 2157.4 2128.6 2157.4 2134" stroke-width="3.5" fill="none"/>
<path d="M2133.7 2104.8L2155.6 2101.2" stroke-width="3" fill="none"/>
<path d="M2133.7 2113.9L2155.6 2110.3" stroke-width="3" fill="none"/>
<path d="M2133.7 2123.1L2155.6 2119.4" stroke-width="3" fill="none"/>
<path d="M2133.7 2132.2L2155.6 2128.6" stroke-width="3" fill="none"/>
<path d="M2124.5 2141.4 L2133.7 2134.8 L2155.6 2134.8 L2164.7 2141.4 L2164.7 2156 L2155.6 2163.3 L2133.7 2163.3 L2124.5 2156 Z" stroke-width="3.5" fill="#fff"/>
<path d="M2124.5 2146.8L2164.7 2146.8" stroke-width="3" fill="none"/>
<path d="M2471 2356.3L2801.9 2166.1M2475 2359.5L2804.6 2170.1M2801.9 2166.1L2804.6 2170.1M2804.6 2170.1L2797.9 2206.3M2468.3 2416.6L2800.6 2225M2800.6 2207.6L2800.6 2225M2471 2356.3L2463.8 2393.8M2475 2359.5L2468.3 2395.2M2468.3 2395.2L2468.3 2416.6" stroke-width="4" fill="none"/>
<path d="M2469.1 2394.4L2800.6 2206.8" stroke-width="7" fill="none"/>
<path d="M2463.8 2393.8 L2422.8 2416.6 L2422.8 2420.6 L2453.6 2407.2 L2468.3 2416.6" stroke-width="4" fill="none"/>
<ellipse cx="2542" cy="2336.2" rx="2.7" ry="3.2" transform="rotate(0 2542 2336.2)" stroke-width="4" fill="none"/>
<ellipse cx="2726.9" cy="2229" rx="2.7" ry="3.2" transform="rotate(0 2726.9 2229)" stroke-width="4" fill="none"/>
<path d="M2934.1 2624.4 C2935.2 2621.7 2937.9 2613.8 2941 2608.2 C2944.1 2602.6 2946.8 2595.6 2952.6 2590.8 C2958.4 2586 2969 2581.1 2975.7 2579.3 C2982.5 2577.4 2986.3 2578.3 2993.1 2579.8 C2999.8 2581.4 3010 2584.4 3016.2 2588.5 C3022.4 2592.7 3027.4 2599.1 3030.1 2604.7 C3032.8 2610.3 3033 2615.3 3032.4 2622.1 C3031.8 2628.8 3030.3 2638.8 3026.6 2645.2 C3023 2651.6 3016 2656.8 3010.4 2660.3 C3004.8 2663.7 3000.8 2665.1 2993.1 2666 C2985.4 2667 2969 2666 2964.1 2666" stroke-width="5" fill="none"/>
<path d="M2934.1 2625.5 L2880.8 2657.9" stroke-width="5" fill="none"/>
<path d="M2964.1 2667.2 L2900.5 2700.8" stroke-width="5" fill="none"/>
<path d="M2880.8 2657.9 C2879.5 2659.9 2874.1 2664.9 2872.7 2669.5 C2871.4 2674.1 2871 2681.1 2872.7 2685.7 C2874.5 2690.3 2878.5 2694.8 2883.1 2697.3 C2887.8 2699.8 2897.6 2700.2 2900.5 2700.8" stroke-width="5" fill="none"/>
<ellipse cx="2883.7" cy="2682.8" rx="5.2" ry="7.9" transform="rotate(-15 2883.7 2682.8)" stroke-width="4.5" fill="none"/>
<path d="M2883.1 2661.4 C2885.6 2662.6 2894.3 2665.1 2898.2 2668.4 C2902 2671.6 2904.5 2676.6 2906.3 2681.1 C2908 2685.5 2908.2 2692.7 2908.6 2695" stroke-width="4.5" fill="none"/>
<path d="M2894.7 2653.3 C2897.2 2654.9 2905.9 2659.1 2909.8 2662.6 C2913.6 2666 2916.1 2670.1 2917.9 2674.1 C2919.6 2678.2 2919.8 2684.7 2920.2 2686.9" stroke-width="4.5" fill="none"/>
<path d="M2916.7 2642.9 C2917.9 2643.9 2921.7 2646.6 2923.6 2648.7 C2925.6 2650.8 2927.5 2654.5 2928.3 2655.6" stroke-width="4.5" fill="none"/>
<path d="M2928.3 2647.5 C2928.5 2645.6 2927.7 2638.8 2929.4 2636 C2931.2 2633.1 2935.6 2630.7 2938.7 2630.2 C2941.8 2629.6 2945.2 2631.1 2947.9 2632.5 C2950.6 2633.8 2953.7 2637.3 2954.9 2638.3" stroke-width="4.5" fill="none"/>
<path d="M2930.6 2663.7 C2931.2 2665.1 2933.3 2668.9 2934.1 2671.8 C2934.8 2674.7 2935 2679.5 2935.2 2681.1" stroke-width="4.5" fill="none"/>
<path d="M2941 2670.7 C2942.5 2670.5 2947.4 2670.7 2950.3 2669.5 C2953.1 2668.4 2956.4 2667 2958.4 2663.7 C2960.3 2660.4 2961.2 2652.2 2961.8 2649.8" stroke-width="4.5" fill="none"/>
<path d="M2949.1 2642.9L2998.9 2616.3" stroke-width="6.5" fill="none"/>
<path d="M2998.9 2616.3L3011.6 2593.1M3000 2618.6L3020.8 2623.2" stroke-width="4.5" fill="none"/>
<path d="M2708.3 2755.9 C2707.8 2754.5 2704 2751.8 2705.5 2747.7 C2707.1 2743.6 2711.5 2739 2717.4 2731.3 C2723.3 2723.5 2734.3 2708.9 2741.2 2701.1 C2748 2693.3 2753.8 2688.1 2758.5 2684.7 C2763.2 2681.2 2764.9 2680.6 2769.5 2680.6 C2774 2680.6 2783.2 2684 2785.9 2684.7" stroke-width="4.5" fill="none"/>
<path d="M2711.9 2752.3 C2714.4 2748.8 2721.1 2738.7 2726.5 2731.3 C2732 2723.8 2739 2714 2744.8 2707.5 C2750.6 2701 2757.1 2694.9 2761.3 2692 C2765.4 2689.1 2766.9 2690.1 2769.5 2690.1 C2772.1 2690.1 2773.9 2690.6 2776.8 2692 C2779.7 2693.3 2781.5 2694.9 2786.8 2698.4 C2792.2 2701.9 2804.2 2709 2808.8 2713 C2813.3 2716.9 2813.5 2719.1 2814.2 2722.1 C2815 2725.2 2814.7 2728.2 2813.3 2731.3 C2812 2734.3 2809.8 2736.3 2806 2740.4 C2802.2 2744.5 2793.1 2753.3 2790.5 2755.9" stroke-width="4.5" fill="none"/>
<path d="M2811.5 2701.1 C2813 2703.4 2818.7 2710.2 2820.6 2714.8 C2822.6 2719.4 2823.5 2723.9 2823.4 2728.5 C2823.2 2733.1 2821.8 2738 2819.7 2742.2 C2817.6 2746.5 2815.5 2748.8 2810.6 2754.1 C2805.7 2759.4 2793.8 2770.8 2790.5 2774.2" stroke-width="4.5" fill="none"/>
<path d="M2784.1 2691.1 L2790.5 2671.9 L2796.9 2671 L2814.2 2679.2 L2815.1 2702 L2811.5 2701.1 L2806.9 2711.2 L2795.1 2702.9 Z" stroke-width="4.5" fill="#fff"/>
<path d="M2795.1 2702L2803.3 2678.3M2798.7 2702.9L2806.9 2681" stroke-width="4.5" fill="none"/>
<path d="M2743.9 2734.9 C2744.4 2732.9 2744 2726.7 2746.6 2723 C2749.2 2719.4 2755.2 2715.7 2759.4 2713 C2763.7 2710.2 2768.1 2707.2 2772.2 2706.6 C2776.3 2706 2779.5 2707 2784.1 2709.3 C2788.7 2711.6 2795.7 2716.9 2799.6 2720.3 C2803.6 2723.6 2806.5 2727.9 2807.8 2729.4" stroke-width="4.5" fill="none"/>
<path d="M2764 2713.9 C2765.4 2714 2768.4 2713.1 2772.2 2714.8 C2776 2716.5 2782.7 2720.3 2786.8 2723.9 C2790.9 2727.6 2794.7 2733.2 2796.9 2736.7 C2799 2740.2 2799.2 2743.6 2799.6 2745" stroke-width="4.5" fill="none"/>
<path d="M2714.7 2750.4 L2757.6 2727.6 L2790.5 2744 L2748.5 2767.8 Z" stroke-width="5" fill="#fff"/>
<path d="M2716.5 2751.3 L2748.5 2767.8 L2748.5 2817.1 L2716.5 2800.7 Z" stroke-width="5" fill="#fff"/>
<path d="M2748.5 2767.8 L2789.6 2745.9 L2789.6 2794.3 L2748.5 2817.1 Z" stroke-width="5" fill="#fff"/>
<path d="M2711 2780.6 L2728.4 2773.3 L2728.4 2786.1 L2711.9 2793.4 Z" stroke-width="4.5" fill="#fff"/>
<path d="M2724.7 2789.7 L2741.2 2780.6 L2741.2 2796.1 L2724.7 2804.3 Z" stroke-width="4.5" fill="#fff"/>
<path d="M2790.5 2795.2 C2792 2795.7 2796.1 2798.4 2799.6 2797.9 C2803.1 2797.5 2808 2795.7 2811.5 2792.5 C2815 2789.3 2819 2784.1 2820.6 2778.8 C2822.3 2773.4 2822.3 2766.1 2821.5 2760.5 C2820.8 2754.9 2817 2747.5 2816.1 2745" stroke-width="4.5" fill="none"/>
<path d="M2806.9 2759.6 C2807.4 2762 2809.5 2769.5 2809.7 2774.2 C2809.8 2778.9 2808.1 2785.6 2807.8 2787.9" stroke-width="4.5" fill="none"/>
<path d="M2749.4 2780.6 C2751.1 2781.3 2754.9 2785.6 2759.4 2785.1 C2764 2784.7 2771.8 2781.5 2776.8 2777.8 C2781.8 2774.2 2787.4 2765.7 2789.6 2763.2" stroke-width="4.5" fill="none"/>
<path d="M3033.5 2819.3 C3029.3 2817.6 3027.5 2817.8 3025.5 2814 C3023.4 2810.2 3021.4 2803.3 3021.4 2796.6 C3021.4 2789.9 3023.2 2780.7 3025.5 2773.8 C3027.7 2766.9 3029.7 2761.7 3034.8 2755 C3040 2748.3 3049.6 2739 3056.3 2733.6 C3063 2728.2 3066.5 2727.8 3075 2722.9 C3083.5 2718 3097.4 2709.1 3107.2 2704.1 C3117 2699.1 3127.3 2694.8 3134 2692.7 C3140.7 2690.6 3142.9 2688.8 3147.4 2691.4 C3151.8 2694 3155.6 2703.3 3160.8 2708.1 C3165.9 2712.9 3172.8 2715.5 3178.2 2720.2 C3183.6 2724.9 3189.6 2730.7 3192.9 2736.3 C3196.3 2741.9 3197.6 2747.4 3198.3 2753.7 C3199 2759.9 3198.7 2768.2 3197 2773.8 C3195.2 2779.4 3200.8 2778.3 3187.6 2787.2 C3174.4 2796.1 3132.2 2819.3 3117.9 2827.4 C3103.6 2835.4 3108.1 2834.1 3101.8 2835.4 C3095.6 2836.8 3088.9 2837.2 3080.4 2835.4 C3071.9 2833.6 3058.7 2827.4 3050.9 2824.7 C3043.1 2822 3037.7 2821.1 3033.5 2819.3 Z" stroke-width="6" fill="none"/>
<path d="M3030.8 2789.9 C3031.5 2786.1 3032.6 2772.9 3034.8 2767.1 C3037.1 2761.3 3040.4 2759.3 3044.2 2755 C3048 2750.8 3052.5 2745.4 3057.6 2741.6 C3062.7 2737.8 3072.1 2733.8 3075 2732.3" stroke-width="3.5" fill="none"/>
<path d="M3037.5 2807.3 C3038 2803 3038 2789.2 3040.2 2781.8 C3042.4 2774.5 3046.4 2768.4 3050.9 2763.1 C3055.4 2757.7 3064.3 2751.9 3067 2749.7" stroke-width="3.5" fill="none"/>
<path d="M3069.7 2747L3134 2710.8M3067 2743L3132.6 2705.5M3057.6 2739L3069.7 2749.7M3131.3 2700.1L3138 2710.8" stroke-width="3.5" fill="none"/>
<path d="M3068.3 2748.3 C3072.6 2751.2 3087.5 2761.5 3093.8 2765.7 C3100 2770 3102.5 2770.2 3105.8 2773.8 C3109.2 2777.4 3112.5 2785 3113.9 2787.2" stroke-width="3.5" fill="none"/>
<path d="M3136.7 2710.8 C3140.7 2713.5 3155 2722.7 3160.8 2726.9 C3166.6 2731.1 3168.4 2732.5 3171.5 2736.3 C3174.6 2740.1 3178.2 2747.4 3179.5 2749.7" stroke-width="3.5" fill="none"/>
<path d="M3093.8 2764.4L3160.8 2728.2" stroke-width="3.5" fill="none"/>
<path d="M3069.7 2828.7 C3069 2825.1 3065.2 2814.7 3065.7 2807.3 C3066.1 2799.9 3067.7 2791.4 3072.4 2784.5 C3077 2777.6 3090.2 2768.9 3093.8 2765.7" stroke-width="3.5" fill="none"/>
<path d="M3097.8 2814 C3098.5 2810.9 3098.9 2804.8 3101.8 2800.6 C3104.7 2796.3 3102.1 2797 3115.2 2788.5 C3128.4 2780 3168.1 2756.1 3180.9 2749.7 C3193.6 2743.2 3188.9 2747.9 3191.6 2749.7 C3194.3 2751.5 3196.7 2755.3 3197 2760.4 C3197.2 2765.5 3194.9 2776.2 3192.9 2780.5 C3190.9 2784.7 3198.5 2778 3184.9 2785.8 C3171.3 2793.7 3125.1 2820.7 3111.2 2827.4 C3097.4 2834.1 3104.1 2827.4 3101.8 2826 C3099.6 2824.7 3098.5 2821.4 3097.8 2819.3 C3097.1 2817.3 3097.1 2817.1 3097.8 2814 Z" stroke-width="4.5" fill="none"/>
<path d="M3103.2 2816.7 C3103.6 2814.4 3103.4 2807.3 3105.8 2803.3 C3108.3 2799.2 3105.4 2800.6 3117.9 2792.5 C3130.4 2784.5 3170.4 2761.3 3180.9 2755" stroke-width="3" fill="none"/>
<path d="M3105.8 2696.1 L3112.5 2693.4 L3117.9 2696.1 L3115.2 2701.4 L3107.2 2702.8 Z" stroke-width="4" fill="#000"/>
<path d="M3054.9 2725.6 L3063 2722.9 L3068.3 2725.6 L3065.7 2732.3 L3057.6 2733.6 Z" stroke-width="4" fill="#000"/>
<path d="M3134 2692.7 C3136.4 2690.9 3143.6 2690.2 3147.4 2690.7 C3151.2 2691.3 3154.3 2693.4 3156.8 2696.1 C3159.2 2698.8 3163 2705.2 3162.1 2706.8 C3161.2 2708.4 3155.2 2705.5 3151.4 2705.5 C3147.6 2705.5 3142.5 2707.5 3139.3 2706.8 C3136.2 2706.1 3133.5 2703.8 3132.6 2701.4 C3131.8 2699.1 3131.5 2694.5 3134 2692.7 Z" stroke-width="8" fill="none"/>
<path d="M3026.8 2808.6 C3026.8 2810.2 3030.6 2818 3033.5 2820.7 C3036.4 2823.4 3043.1 2824.9 3044.2 2824.7 C3045.3 2824.5 3042 2821.6 3040.2 2819.3 C3038.4 2817.1 3035.7 2813.1 3033.5 2811.3 C3031.3 2809.5 3026.8 2807.1 3026.8 2808.6 Z" stroke-width="8" fill="none"/>
<path d="M2504.9 2857 C2502.4 2854.1 2495.8 2842.4 2489.9 2839.5 C2484.1 2836.6 2477 2837.9 2470 2839.5 C2462.9 2841.2 2452.5 2844.5 2447.5 2849.5 C2442.5 2854.5 2440 2862.4 2440 2869.5 C2440 2876.6 2441.7 2885.7 2447.5 2892 C2453.3 2898.2 2470.4 2904.4 2475 2906.9" stroke-width="4" fill="none"/>
<path d="M2475 2879.5 L2504.9 2862 L2547.4 2887 L2507.4 2909.4 L2475 2879.5" stroke-width="4" fill="none"/>
<path d="M2507.4 2909.4 L2547.4 2911.9 L2507.4 2936.9 L2475 2919.4 L2475 2906.9" stroke-width="4" fill="none"/>
<ellipse cx="2505.9" cy="2887" rx="11" ry="6" transform="rotate(0 2505.9 2887)" stroke-width="4" fill="none"/>
<path d="M2507.4 2854.5L2507.4 2961.9" stroke-width="4" fill="none"/>
<path d="M2470 2839.5 C2466.6 2842 2453.7 2848.7 2450 2854.5 C2446.2 2860.3 2443.3 2869.5 2447.5 2874.5 C2451.7 2879.5 2470.4 2882.8 2475 2884.5" stroke-width="3" fill="none"/>
<path d="M2494.7 2791.6 L2494.7 2827.5 L2507.3 2840.1 L2518.5 2830.4 L2518.5 2791.6 Z" stroke-width="4.5" fill="#fff"/>
<path d="M2497.6 2798.4L2506.3 2799.3M2511.2 2798.4L2516.1 2798.9" stroke-width="3.5" fill="none"/>
<path d="M2497.6 2805.2L2506.3 2806.1M2511.2 2805.2L2516.1 2805.6" stroke-width="3.5" fill="none"/>
<path d="M2497.6 2815.8L2506.3 2816.8M2511.2 2815.8L2516.1 2816.3" stroke-width="3.5" fill="none"/>
<path d="M2497.6 2824.6L2506.3 2825.5M2511.2 2824.6L2516.1 2825" stroke-width="3.5" fill="none"/>
<path d="M2496.6 2827.5L2517 2827.5" stroke-width="3.5" fill="none"/>
<ellipse cx="2506.3" cy="2782.8" rx="22.8" ry="10.2" transform="rotate(0 2506.3 2782.8)" stroke-width="5" fill="#fff"/>
<path d="M2489.4 2763.4 L2489.4 2781.9 L2500.5 2787.7 L2518 2784.8 L2525.3 2777 L2525.3 2761.5 L2512.2 2755.7 L2495.7 2756.6 Z" stroke-width="5" fill="#fff"/>
<path d="M2500.5 2773.1L2500.5 2787.7M2518 2773.1L2518 2784.8" stroke-width="4" fill="none"/>
<ellipse cx="2506.3" cy="2764.4" rx="16" ry="8.2" transform="rotate(0 2506.3 2764.4)" stroke-width="5" fill="#fff"/>
<path d="M2493.7 2770.2L2513.1 2757.6M2496.6 2775.1L2516.1 2762.5" stroke-width="5" fill="none"/>
<ellipse cx="185" cy="2581.9" rx="8.3" ry="12.8" transform="rotate(-20 185 2581.9)" stroke-width="4" fill="none"/>
<ellipse cx="201" cy="2718.7" rx="8.3" ry="12.8" transform="rotate(-20 201 2718.7)" stroke-width="4" fill="none"/>
<ellipse cx="279.1" cy="2686.7" rx="8.3" ry="12.8" transform="rotate(-20 279.1 2686.7)" stroke-width="4" fill="none"/>
<ellipse cx="525.2" cy="2832.5" rx="8.3" ry="12.8" transform="rotate(-20 525.2 2832.5)" stroke-width="4" fill="none"/>
<ellipse cx="195.9" cy="2984.1" rx="8.3" ry="12.8" transform="rotate(-20 195.9 2984.1)" stroke-width="4" fill="none"/>
<ellipse cx="274.6" cy="3000.1" rx="8.3" ry="12.8" transform="rotate(-20 274.6 3000.1)" stroke-width="4" fill="none"/>
<ellipse cx="295" cy="3145.9" rx="8.3" ry="12.8" transform="rotate(-20 295 3145.9)" stroke-width="4" fill="none"/>
<ellipse cx="900.6" cy="2945.7" rx="8.3" ry="12.8" transform="rotate(-20 900.6 2945.7)" stroke-width="4" fill="none"/>
<ellipse cx="885.3" cy="3037.2" rx="8.3" ry="12.8" transform="rotate(-20 885.3 3037.2)" stroke-width="4" fill="none"/>
<ellipse cx="1057.3" cy="3131.2" rx="8.3" ry="12.8" transform="rotate(-20 1057.3 3131.2)" stroke-width="4" fill="none"/>
<ellipse cx="712.6" cy="3208.5" rx="8.3" ry="12.8" transform="rotate(-20 712.6 3208.5)" stroke-width="4" fill="none"/>
<ellipse cx="892.9" cy="2743" rx="32" ry="37.1" transform="rotate(-15 892.9 2743)" stroke-width="4" fill="#fff"/>
<ellipse cx="877" cy="2751.3" rx="24.3" ry="32" transform="rotate(-15 877 2751.3)" stroke-width="3" fill="none"/>
<ellipse cx="871.8" cy="2755.8" rx="17.9" ry="23" transform="rotate(-15 871.8 2755.8)" stroke-width="4" fill="#fff"/>
<ellipse cx="877" cy="2754.5" rx="9.6" ry="14.1" transform="rotate(-15 877 2754.5)" stroke-width="3" fill="none"/>
<path d="M822.6 2787.8L861 2768.6M915.3 2736.6L934.5 2725.1" stroke-width="3" fill="none"/>
<ellipse cx="940.9" cy="2722.5" rx="7.7" ry="10.9" transform="rotate(-15 940.9 2722.5)" stroke-width="3.5" fill="none"/>
<g transform="translate(765 2822.9) rotate(-29.1) scale(0.85)"><path d="M8 -12 L61.5 -12 Q77.5 -9 77.5 0 Q77.5 9 61.5 12 L8 12" fill="#fff" stroke-width="3.5"/><path d="M14 -12 L17 5" stroke-width="2.8000000000000003" fill="none"/><path d="M23.9 -12 L26.9 5" stroke-width="2.8000000000000003" fill="none"/><path d="M33.8 -12 L36.8 5" stroke-width="2.8000000000000003" fill="none"/><path d="M43.7 -12 L46.7 5" stroke-width="2.8000000000000003" fill="none"/><path d="M53.6 -12 L56.6 5" stroke-width="2.8000000000000003" fill="none"/><path d="M63.5 -12 L66.5 5" stroke-width="2.8000000000000003" fill="none"/><ellipse cx="4" cy="0" rx="12" ry="24" fill="#fff" stroke-width="3.5"/><path d="M-14 -19 L2 -19 L2 19 L-14 19 Z" fill="#fff" stroke-width="3.5"/><path d="M-14 -7 L2 -8 M-14 8 L2 8" stroke-width="2.8000000000000003" fill="none"/><ellipse cx="-14" cy="0" rx="11" ry="19" fill="#fff" stroke-width="3.5"/><path d="M-19 -15 L-16 15 M-13 -15 L-10 15" stroke-width="2.8000000000000003" fill="none"/></g>
<ellipse cx="474.1" cy="3256.4" rx="8.3" ry="12.8" transform="rotate(-20 474.1 3256.4)" stroke-width="4" fill="none"/>
<ellipse cx="886.5" cy="3304.4" rx="8.3" ry="12.8" transform="rotate(-20 886.5 3304.4)" stroke-width="4" fill="none"/>
<ellipse cx="1052.8" cy="3413.1" rx="8.3" ry="12.8" transform="rotate(-20 1052.8 3413.1)" stroke-width="4" fill="none"/>
<ellipse cx="195.9" cy="3675.2" rx="8.3" ry="12.8" transform="rotate(-20 195.9 3675.2)" stroke-width="4" fill="none"/>
<path d="M231.1 3627.3 C229.5 3615 232.2 3592.1 237.5 3576.1 C242.8 3560.1 257.2 3549.5 263.1 3531.4 C268.9 3513.2 266.8 3487.7 272.7 3467.4 C278.5 3447.2 287.6 3426.9 298.2 3409.9 C308.9 3392.8 322.7 3376 336.6 3365.1 C350.5 3354.2 366.4 3347.3 381.4 3344.6 C396.3 3342 413.3 3345.7 426.1 3349.1 C438.9 3352.5 442.1 3358.7 458.1 3365.1 C474.1 3371.5 508.2 3381.6 522 3387.5 C535.9 3393.3 537 3391.2 541.2 3400.3 C545.5 3409.3 542.3 3418.9 547.6 3441.8 C553 3464.8 566.3 3510.1 573.2 3537.8 C580.1 3565.5 586.5 3590 589.2 3608.1 C591.9 3626.2 591.9 3631.5 589.2 3646.5 C586.5 3661.4 581.7 3681.1 573.2 3697.6 C564.7 3714.1 550.8 3735.5 538 3745.6 C525.2 3755.7 514.1 3757.3 496.5 3758.4 C478.9 3759.4 451.7 3756.2 432.5 3752 C413.3 3747.7 398.4 3742.9 381.4 3732.8 C364.3 3722.7 345.1 3703 330.2 3691.2 C315.3 3679.5 305.7 3669.4 291.8 3662.5 C278 3655.5 257.2 3655.5 247.1 3649.7 C237 3643.8 232.7 3639.5 231.1 3627.3 Z" stroke-width="4" fill="none"/>
<path d="M237.5 3627.3 C238.6 3619.3 238.9 3594.8 243.9 3579.3 C248.9 3563.9 261.7 3552.7 267.5 3534.6 C273.4 3516.4 273.1 3490.5 279.1 3470.6 C285 3450.7 293.2 3431.3 303.4 3415 C313.5 3398.7 326.8 3383.2 339.8 3372.8 C352.8 3362.3 367.5 3355.1 381.4 3352.3 C395.2 3349.5 410.7 3353 422.9 3356.2 C435.2 3359.3 438.9 3365.2 454.9 3371.5 C470.9 3377.8 508.2 3390.2 518.9 3393.9" stroke-width="3" fill="none"/>
<path d="M243.9 3643.3 C251.9 3645.4 276.9 3649.1 291.8 3656.1 C306.8 3663 318 3673.1 333.4 3684.8 C348.9 3696.6 368 3716.3 384.6 3726.4 C401.1 3736.5 413.9 3741.3 432.5 3745.6 C451.2 3749.9 485.8 3750.9 496.5 3752" stroke-width="3" fill="none"/>
<path d="M320.6 3461L579.6 3608.1M237.5 3630.5L534.8 3461M534.8 3397.1L534.8 3461" stroke-width="4" fill="none"/>
<ellipse cx="321.9" cy="3461" rx="7.7" ry="12.8" transform="rotate(-20 321.9 3461)" stroke-width="4" fill="none"/>
<path d="M701.1 3681.6L797 3736M832.2 3758.4L912.1 3805.1M1036.8 3755.2L1095.7 3790.4M701.1 3934.2L908.9 3815.9M701.1 3947L902.5 3828.7M1020.8 3831.9L1095.7 3790.4" stroke-width="4" fill="none"/>
<path d="M947.3 3787.2L1027.2 3742.4M963.3 3796.7L1036.8 3752" stroke-width="3.5" fill="none"/>
<ellipse cx="1032.3" cy="3746.2" rx="5.1" ry="7.7" transform="rotate(-30 1032.3 3746.2)" stroke-width="3.5" fill="none"/>
<path d="M755.5 3588.9L845 3640.1M886.5 3666.9L1033.6 3755.2" stroke-width="4" fill="none"/>
<path d="M694.7 4028.9L972.9 3867.1" stroke-width="5" fill="none"/>
<path d="M793.8 3736 L829 3716.8 L835.4 3761.6 L797 3777.6 Z" stroke-width="4" fill="#fff"/>
<path d="M800.2 3739.2L803.4 3775.6M803.4 3739.2L829 3724.5" stroke-width="3" fill="none"/>
<ellipse cx="821.3" cy="3752" rx="9" ry="11.5" transform="rotate(-20 821.3 3752)" stroke-width="4" fill="none"/>
<path d="M841.8 3761.6 C846 3760.5 859.4 3760.5 867.4 3755.2 C875.4 3749.9 887.1 3738.7 889.7 3729.6 C892.4 3720.5 887.6 3706.2 883.3 3700.8 C879.1 3695.5 868.4 3694.4 864.2 3697.6 C859.9 3700.8 861.5 3715.2 857.8 3720 C854 3724.8 844.4 3725.3 841.8 3726.4" stroke-width="4" fill="none"/>
<path d="M816.2 3777.6 L829 3771.2 L829 3780.8 L816.2 3784 Z" stroke-width="3" fill="none"/>
<g transform="translate(972.9 3831.9) rotate(-151.9) scale(0.85)"><path d="M8 -12 L60.7 -12 Q76.7 -9 76.7 0 Q76.7 9 60.7 12 L8 12" fill="#fff" stroke-width="3.5"/><path d="M14 -12 L17 5" stroke-width="2.8000000000000003" fill="none"/><path d="M23.7 -12 L26.7 5" stroke-width="2.8000000000000003" fill="none"/><path d="M33.5 -12 L36.5 5" stroke-width="2.8000000000000003" fill="none"/><path d="M43.2 -12 L46.2 5" stroke-width="2.8000000000000003" fill="none"/><path d="M53 -12 L56 5" stroke-width="2.8000000000000003" fill="none"/><path d="M62.7 -12 L65.7 5" stroke-width="2.8000000000000003" fill="none"/><ellipse cx="4" cy="0" rx="12" ry="24" fill="#fff" stroke-width="3.5"/><path d="M-14 -19 L2 -19 L2 19 L-14 19 Z" fill="#fff" stroke-width="3.5"/><path d="M-14 -7 L2 -8 M-14 8 L2 8" stroke-width="2.8000000000000003" fill="none"/><ellipse cx="-14" cy="0" rx="11" ry="19" fill="#fff" stroke-width="3.5"/><path d="M-19 -15 L-16 15 M-13 -15 L-10 15" stroke-width="2.8000000000000003" fill="none"/></g>
<path d="M1321.9 3126.6 L1349.6 3110.5 L1396.4 3136.9 L1371.5 3151.5 L1342.3 3171.9 L1324.8 3161.7 Z" stroke-width="5" fill="#fff"/>
<path d="M1321.9 3126.6L1370.1 3154.4M1370.1 3154.4L1371.5 3151.5" stroke-width="5" fill="none"/>
<ellipse cx="1358.4" cy="3131" rx="9.4" ry="6.4" transform="rotate(-10 1358.4 3131)" stroke-width="4.5" fill="none"/>
<ellipse cx="1339.4" cy="3152.9" rx="7.3" ry="9.4" transform="rotate(-20 1339.4 3152.9)" stroke-width="4.5" fill="none"/>
<ellipse cx="1339.4" cy="3152.9" rx="3.5" ry="4.7" transform="rotate(-20 1339.4 3152.9)" stroke-width="3" fill="none"/>
<path d="M1396.4 3136.9L1482.6 3291.8M1371.5 3152.9L1456.3 3306.4" stroke-width="5" fill="none"/>
<path d="M1368.6 3158.8 L1351.1 3193.9 L1416.9 3307.9 L1456.3 3307.9" stroke-width="5" fill="none"/>
<path d="M1482.6 3291.8L1484.1 3414.6M1456.3 3307.9L1457.8 3427.7M1456.3 3307.9L1482.6 3291.8" stroke-width="5" fill="none"/>
<path d="M1456.3 3310.8 L1427.1 3337.1 L1427.1 3407.3 L1457.8 3424.8" stroke-width="5" fill="none"/>
<path d="M1484.1 3414.6L1424.2 3519.8M1457.8 3427.7L1399.3 3531.5M1457.8 3426.3L1484.1 3414.6" stroke-width="5" fill="none"/>
<path d="M1457.8 3426.3 L1415.4 3438 L1373 3509.6 L1399.3 3531.5" stroke-width="5" fill="none"/>
<path d="M1399.3 3531.5L1424.2 3519.8M1399.3 3534.4L1365.7 3559.9" stroke-width="5" fill="none"/>
<ellipse cx="1399.3" cy="3242.1" rx="7.3" ry="11.1" transform="rotate(-20 1399.3 3242.1)" stroke-width="4.5" fill="none"/>
<ellipse cx="1428.6" cy="3226" rx="7.3" ry="11.1" transform="rotate(-20 1428.6 3226)" stroke-width="4.5" fill="none"/>
<ellipse cx="1440.2" cy="3372.2" rx="7.3" ry="11.1" transform="rotate(-20 1440.2 3372.2)" stroke-width="4.5" fill="none"/>
<ellipse cx="1408.1" cy="3477.4" rx="7.3" ry="11.1" transform="rotate(-20 1408.1 3477.4)" stroke-width="4.5" fill="none"/>
<path d="M1256.1 3201.2L1324.8 3161.7M1386.2 3125.2L1415.4 3107.6" stroke-width="4.5" fill="none"/>
<g transform="translate(1473.9 3072.5) rotate(151.1) scale(1.0)"><path d="M8 -12 L47.5 -12 Q63.5 -9 63.5 0 Q63.5 9 47.5 12 L8 12" fill="#fff" stroke-width="3.5"/><path d="M14 -12 L17 5" stroke-width="2.8000000000000003" fill="none"/><path d="M21.1 -12 L24.1 5" stroke-width="2.8000000000000003" fill="none"/><path d="M28.2 -12 L31.2 5" stroke-width="2.8000000000000003" fill="none"/><path d="M35.3 -12 L38.3 5" stroke-width="2.8000000000000003" fill="none"/><path d="M42.4 -12 L45.4 5" stroke-width="2.8000000000000003" fill="none"/><path d="M49.5 -12 L52.5 5" stroke-width="2.8000000000000003" fill="none"/><ellipse cx="4" cy="0" rx="12" ry="24" fill="#fff" stroke-width="3.5"/><path d="M-14 -19 L2 -19 L2 19 L-14 19 Z" fill="#fff" stroke-width="3.5"/><path d="M-14 -7 L2 -8 M-14 8 L2 8" stroke-width="2.8000000000000003" fill="none"/><ellipse cx="-14" cy="0" rx="11" ry="19" fill="#fff" stroke-width="3.5"/><path d="M-19 -15 L-16 15 M-13 -15 L-10 15" stroke-width="2.8000000000000003" fill="none"/></g>
<path d="M1526.5 2996.5 L1551.3 2984.8 L1599.6 3012.6 L1579.1 3025.8 L1577.6 3059.4 L1526.5 3033.1 Z" stroke-width="5" fill="#fff"/>
<path d="M1526.5 2996.5L1579.1 3025.8" stroke-width="5" fill="none"/>
<path d="M1599.6 3012.6L1685.8 3164.6M1579.1 3025.8L1662.4 3174.9M1577.6 3059.4L1643.4 3179.2" stroke-width="5" fill="none"/>
<path d="M1643.4 3180.7 L1662.4 3174.9 L1685.8 3164.6" stroke-width="5" fill="none"/>
<path d="M1685.8 3164.6L1685.8 3290.3M1662.4 3174.9L1662.4 3296.2M1643.4 3180.7L1643.4 3288.9" stroke-width="5" fill="none"/>
<path d="M1685.8 3290.3L1628.8 3391.2M1662.4 3296.2L1605.4 3402.9M1643.4 3288.9L1580.6 3398.5" stroke-width="5" fill="none"/>
<path d="M1643.4 3288.9 L1662.4 3296.2 L1685.8 3290.3" stroke-width="5" fill="none"/>
<path d="M1580.6 3398.5 L1605.4 3402.9 L1628.8 3391.2" stroke-width="5" fill="none"/>
<path d="M1358.8 3566.4 L1399.3 3534.1 L1425.9 3522.7" stroke-width="5" fill="none"/>
<path d="M1358.8 3566.4L1358.8 4286.7M1399.3 3534.1L1399.3 4317.1M1425.9 3522.7L1425.9 4303.8" stroke-width="5" fill="none"/>
<path d="M1358.8 4286.7 L1399.3 4317.1 L1425.9 4303.8" stroke-width="5" fill="none"/>
<ellipse cx="1377.7" cy="3604.3" rx="6.8" ry="10.6" transform="rotate(-20 1377.7 3604.3)" stroke-width="4.5" fill="none"/>
<ellipse cx="1411.1" cy="3640.3" rx="6.8" ry="10.6" transform="rotate(-20 1411.1 3640.3)" stroke-width="4.5" fill="none"/>
<ellipse cx="1377.7" cy="3920.9" rx="6.8" ry="10.6" transform="rotate(-20 1377.7 3920.9)" stroke-width="4.5" fill="none"/>
<ellipse cx="1411.1" cy="4246.9" rx="6.8" ry="10.6" transform="rotate(-20 1411.1 4246.9)" stroke-width="4.5" fill="none"/>
<ellipse cx="1377.7" cy="4271.6" rx="6.8" ry="10.6" transform="rotate(-20 1377.7 4271.6)" stroke-width="4.5" fill="none"/>
<path d="M1579.8 3500L1579.8 4176.8M1605.2 3500L1605.2 4193.8M1628 3500L1628 4182.5" stroke-width="5" fill="none"/>
<path d="M1579.8 4176.8 L1605.2 4193.8 L1628 4182.5" stroke-width="5" fill="none"/>
<path d="M1580.6 3398.5L1579.8 3500M1605.4 3402.9L1605.2 3500M1628.8 3391.2L1628 3500" stroke-width="5" fill="none"/>
<path d="M1760 2952.1 L1805.7 2926.6 L1853.2 2952.1" stroke-width="5" fill="none"/>
<path d="M1760 2966.7 L1794.7 2986.8" stroke-width="5" fill="none"/>
<path d="M2094.3 2758.5 L2127.2 2740.2 L2174.7 2767.6" stroke-width="5" fill="none"/>
<path d="M2094.3 2758.5 L2141.8 2785.9" stroke-width="5" fill="none"/>
<path d="M1794.7 2986.8L2174.7 2767.6M2174.7 2767.6L2264.3 2919.2M1794.7 2986.8L1880.6 3138.5M2264.3 2919.2L2264.3 3045.3M1880.6 3138.5L1880.6 3264.5M1880.6 3264.5L2262.4 3045.3M2264.3 3045.3L2200.3 3153.1M2200.3 3153.1L2200.3 3300M1939 3300L2200.3 3153.1" stroke-width="5" fill="none"/>
<path d="M1880.6 3138.5L2264.3 2919.2" stroke-width="7" fill="none"/>
<ellipse cx="1820.3" cy="2995.2" rx="8" ry="8" transform="rotate(0 1820.3 2995.2)" stroke-width="4.5" fill="none"/>
<ellipse cx="2164.9" cy="2796.8" rx="8" ry="8" transform="rotate(0 2164.9 2796.8)" stroke-width="4.5" fill="none"/>
<ellipse cx="2243.1" cy="2969.7" rx="5.8" ry="9.5" transform="rotate(25 2243.1 2969.7)" stroke-width="4.5" fill="none"/>
<ellipse cx="1899.9" cy="3164.8" rx="5.8" ry="9.5" transform="rotate(25 1899.9 3164.8)" stroke-width="4.5" fill="none"/>
<ellipse cx="2114.4" cy="3277.3" rx="5.8" ry="9.5" transform="rotate(25 2114.4 3277.3)" stroke-width="4.5" fill="none"/>
<path d="M1823.7 3365.3L1823.7 4166.7M2199.8 3280L2199.8 3940.6M1823.7 4166.7L2199.8 3940.6M1885.2 3399L2226.4 3597.4M1952.7 3436.7L2182.8 3307.8M2182.8 3307.8L2127.2 3276" stroke-width="5" fill="none"/>
<path d="M1880.6 3264.6L1823.7 3365.3M1823.7 3365.3L2200.3 3153" stroke-width="5" fill="none"/>
<path d="M1823.7 4121.1 L1796 4136.2 L1823.7 4152.8" stroke-width="5" fill="none"/>
<ellipse cx="1886.4" cy="3399" rx="6.3" ry="10.3" transform="rotate(25 1886.4 3399)" stroke-width="4.5" fill="none"/>
<ellipse cx="2180.8" cy="3482.3" rx="6.3" ry="10.3" transform="rotate(25 2180.8 3482.3)" stroke-width="4.5" fill="none"/>
<ellipse cx="2118.5" cy="3620.4" rx="6.3" ry="10.3" transform="rotate(25 2118.5 3620.4)" stroke-width="4.5" fill="none"/>
<ellipse cx="1839.6" cy="3683.9" rx="6.3" ry="10.3" transform="rotate(25 1839.6 3683.9)" stroke-width="4.5" fill="none"/>
<ellipse cx="1888.4" cy="3749.4" rx="6.3" ry="10.3" transform="rotate(25 1888.4 3749.4)" stroke-width="4.5" fill="none"/>
<ellipse cx="2122.5" cy="3766" rx="6.3" ry="10.3" transform="rotate(25 2122.5 3766)" stroke-width="4.5" fill="none"/>
<ellipse cx="1870.5" cy="3904.1" rx="6.3" ry="10.3" transform="rotate(25 1870.5 3904.1)" stroke-width="4.5" fill="none"/>
<ellipse cx="2182" cy="3891.8" rx="6.3" ry="10.3" transform="rotate(25 2182 3891.8)" stroke-width="4.5" fill="none"/>
<ellipse cx="1836.8" cy="4097.3" rx="6.3" ry="10.3" transform="rotate(25 1836.8 4097.3)" stroke-width="4.5" fill="none"/>
<path d="M1887.2 3867.2 L1906.2 3857.3 L1906.2 3920.7 L1887.2 3930.7 Z" stroke-width="5" fill="none"/>
<path d="M1887.2 3948.5 L1906.2 3938.6 L1906.2 4002.1 L1887.2 4012 Z" stroke-width="5" fill="none"/>
<path d="M1918.9 3847.3 L1938 3837.4 L1938 3900.9 L1918.9 3910.8 Z" stroke-width="5" fill="none"/>
<path d="M1918.9 3928.7 L1938 3918.8 L1938 3982.2 L1918.9 3992.2 Z" stroke-width="5" fill="none"/>
<path d="M1952.7 3827.5 L1971.7 3817.6 L1971.7 3881.1 L1952.7 3891 Z" stroke-width="5" fill="none"/>
<path d="M1952.7 3908.8 L1971.7 3898.9 L1971.7 3962.4 L1952.7 3972.3 Z" stroke-width="5" fill="none"/>
<path d="M1987.2 3807.7 L2006.2 3797.8 L2006.2 3861.2 L1987.2 3871.2 Z" stroke-width="5" fill="none"/>
<path d="M1987.2 3889 L2006.2 3879.1 L2006.2 3942.6 L1987.2 3952.5 Z" stroke-width="5" fill="none"/>
<path d="M2022.9 3787.8 L2041.9 3777.9 L2041.9 3841.4 L2022.9 3851.3 Z" stroke-width="5" fill="none"/>
<path d="M2022.9 3869.2 L2041.9 3859.3 L2041.9 3922.7 L2022.9 3932.6 Z" stroke-width="5" fill="none"/>
<path d="M2058.6 3768 L2077.6 3758.1 L2077.6 3821.6 L2058.6 3831.5 Z" stroke-width="5" fill="none"/>
<path d="M2058.6 3849.3 L2077.6 3839.4 L2077.6 3902.9 L2058.6 3912.8 Z" stroke-width="5" fill="none"/>
<path d="M2090.3 3748.2 L2109.4 3738.2 L2109.4 3801.7 L2090.3 3811.6 Z" stroke-width="5" fill="none"/>
<path d="M2090.3 3829.5 L2109.4 3819.6 L2109.4 3883.1 L2090.3 3893 Z" stroke-width="5" fill="none"/>
<path d="M1889.2 4037.8 L1944.7 4006 L1944.7 4023.9 L1889.2 4055.6 Z" stroke-width="5" fill="none"/>
<path d="M1891.2 4077.5 L1946.7 4045.7 L1946.7 4063.6 L1891.2 4095.3 Z" stroke-width="5" fill="none"/>
<path d="M1960.6 3996.1 L2016.1 3964.4 L2016.1 3982.2 L1960.6 4014 Z" stroke-width="5" fill="none"/>
<path d="M1962.6 4037.8 L2018.1 4006 L2018.1 4023.9 L1962.6 4055.6 Z" stroke-width="5" fill="none"/>
<path d="M2040 3950.5 L2095.5 3918.8 L2095.5 3936.6 L2040 3968.4 Z" stroke-width="5" fill="none"/>
<path d="M2040 3994.1 L2095.5 3962.4 L2095.5 3980.3 L2040 4012 Z" stroke-width="5" fill="none"/>
<g transform="translate(2295 3633) rotate(-152.4) scale(0.95)"><path d="M8 -12 L61.2 -12 Q77.2 -9 77.2 0 Q77.2 9 61.2 12 L8 12" fill="#fff" stroke-width="3.5"/><path d="M14 -12 L17 5" stroke-width="2.8000000000000003" fill="none"/><path d="M23.8 -12 L26.8 5" stroke-width="2.8000000000000003" fill="none"/><path d="M33.7 -12 L36.7 5" stroke-width="2.8000000000000003" fill="none"/><path d="M43.5 -12 L46.5 5" stroke-width="2.8000000000000003" fill="none"/><path d="M53.4 -12 L56.4 5" stroke-width="2.8000000000000003" fill="none"/><path d="M63.2 -12 L66.2 5" stroke-width="2.8000000000000003" fill="none"/><ellipse cx="4" cy="0" rx="12" ry="24" fill="#fff" stroke-width="3.5"/><path d="M-14 -19 L2 -19 L2 19 L-14 19 Z" fill="#fff" stroke-width="3.5"/><path d="M-14 -7 L2 -8 M-14 8 L2 8" stroke-width="2.8000000000000003" fill="none"/><ellipse cx="-14" cy="0" rx="11" ry="19" fill="#fff" stroke-width="3.5"/><path d="M-19 -15 L-16 15 M-13 -15 L-10 15" stroke-width="2.8000000000000003" fill="none"/></g>
<path d="M1398.1 2533.9 L1432.1 2513 L1533.5 2568.4 L1506.1 2584.8 L1472.1 2566.2 L1465 2571.1 Z" stroke-width="4.5" fill="none"/>
<path d="M2627.2 3310.1L2677.9 3338.3" stroke-width="4.5" fill="none"/>
<path d="M2622.7 3341.7 L2790.5 3438.6 L2812 3425.1 L2863.8 3454.4" stroke-width="4.5" fill="none"/>
<path d="M2674.5 3341.7 L2689.1 3333.8 L2706 3342.8 L2706 3367.6 L2692.5 3375.5 L2674.5 3366.5 Z" stroke-width="5.5" fill="#fff"/>
<path d="M2674.5 3341.7L2692.5 3350.7M2692.5 3350.7L2706 3342.8M2692.5 3350.7L2692.5 3375.5" stroke-width="4.5" fill="none"/>
<path d="M2706 3351.8 C2711.1 3352 2726.5 3354.3 2736.5 3352.9 C2746.4 3351.6 2759 3347.3 2765.8 3343.9 C2772.5 3340.6 2775.2 3334.5 2777 3332.7" stroke-width="4.5" fill="none"/>
<path d="M2706 3362 C2711.1 3362.3 2726.9 3365.3 2736.5 3364.2 C2746 3363.1 2756 3359 2763.5 3355.2 C2771 3351.4 2778.5 3343.9 2781.5 3341.7" stroke-width="4.5" fill="none"/>
<path d="M2774.8 3316.9 L2815.3 3294.4 L2826.6 3298.9 L2826.6 3332.7 L2783.8 3355.2 L2774.8 3348.4 Z" stroke-width="5.5" fill="#fff"/>
<path d="M2774.8 3316.9L2783.8 3322.5M2783.8 3322.5L2826.6 3298.9M2783.8 3322.5L2783.8 3355.2" stroke-width="4.5" fill="none"/>
<ellipse cx="2801.8" cy="3327" rx="5" ry="6.8" transform="rotate(20 2801.8 3327)" stroke-width="4.5" fill="none"/>
<path d="M2901.4 3377.1L2943 3401.3M2840 3440.7L2868.5 3457.2M3020.9 3446.2L3053.8 3464.8" stroke-width="4.5" fill="none"/>
<path d="M2882.8 3496.6 C2882.8 3491.4 2882 3450.4 2882.8 3444 C2883.5 3437.7 2879.4 3440.3 2890.4 3433 C2901.5 3425.8 2982.3 3377.8 2993.5 3371.7 C3004.7 3365.5 3000.5 3370.8 3002.2 3371.7 C3004 3372.5 3010.1 3376.9 3011 3380.4 C3011.9 3383.9 3011 3404.1 3011 3406.7" stroke-width="5.5" fill="none"/>
<path d="M2882.8 3496.6 C2884.8 3498.1 2891 3505 2894.8 3505.4 C2898.6 3505.8 2903.9 3499.9 2905.8 3498.8" stroke-width="5.5" fill="none"/>
<path d="M2889.3 3498.8 C2889.3 3493.3 2888.6 3450.4 2889.3 3444 C2890.1 3437.7 2886.4 3441.9 2897 3435.2 C2907.6 3428.6 2984.7 3382.4 2995.7 3377.1 C3006.6 3371.9 3005.5 3382.1 3006.6 3382.6" stroke-width="4.0" fill="none"/>
<path d="M2905.8 3452.8 L2991.3 3395.8 L3015.4 3406.7 L3020.9 3415.5 L3020.9 3452.8 L3015.4 3461.6 L2929.9 3508.7 L2923.3 3505.4 L2905.8 3492.2 Z" stroke-width="5.5" fill="#fff"/>
<path d="M2924.4 3505.4 C2924.4 3501.9 2923.6 3474.9 2924.4 3470.3 C2925.2 3465.7 2923.4 3465.1 2932.1 3459.4 C2940.7 3453.7 3002.7 3418.6 3011 3413.3 C3019.3 3408.1 3015 3407.4 3015.4 3406.7" stroke-width="4.5" fill="none"/>
<path d="M2863 3457.2 L2881.7 3455 L2881.7 3475.8 L2863 3475.8 Z" stroke-width="5.5" fill="none"/>
<ellipse cx="3007.7" cy="3440.7" rx="4.8" ry="6.6" transform="rotate(0 3007.7 3440.7)" stroke-width="4.5" fill="none"/>
<path d="M2980.3 3446.2 L2994.6 3439.6 L2994.6 3456.1 L2980.3 3462.6 Z" stroke-width="5.5" fill="none"/>
<path d="M2974.8 3452.8L2974.8 3463.7M2973.7 3444L2989.1 3437.4M2973.7 3473.6L2989.1 3467M2912.4 3449.5L2921.1 3456.1" stroke-width="5.5" fill="none"/>
<g transform="translate(3111.9 3497.7) rotate(-152.1) scale(1.0)"><path d="M8 -12 L47.3 -12 Q63.3 -9 63.3 0 Q63.3 9 47.3 12 L8 12" fill="#fff" stroke-width="3.5"/><path d="M14 -12 L17 5" stroke-width="2.8000000000000003" fill="none"/><path d="M21.1 -12 L24.1 5" stroke-width="2.8000000000000003" fill="none"/><path d="M28.1 -12 L31.1 5" stroke-width="2.8000000000000003" fill="none"/><path d="M35.2 -12 L38.2 5" stroke-width="2.8000000000000003" fill="none"/><path d="M42.2 -12 L45.2 5" stroke-width="2.8000000000000003" fill="none"/><path d="M49.3 -12 L52.3 5" stroke-width="2.8000000000000003" fill="none"/><ellipse cx="4" cy="0" rx="12" ry="24" fill="#fff" stroke-width="3.5"/><path d="M-14 -19 L2 -19 L2 19 L-14 19 Z" fill="#fff" stroke-width="3.5"/><path d="M-14 -7 L2 -8 M-14 8 L2 8" stroke-width="2.8000000000000003" fill="none"/><ellipse cx="-14" cy="0" rx="11" ry="19" fill="#fff" stroke-width="3.5"/><path d="M-19 -15 L-16 15 M-13 -15 L-10 15" stroke-width="2.8000000000000003" fill="none"/></g>
</svg></body></html>
